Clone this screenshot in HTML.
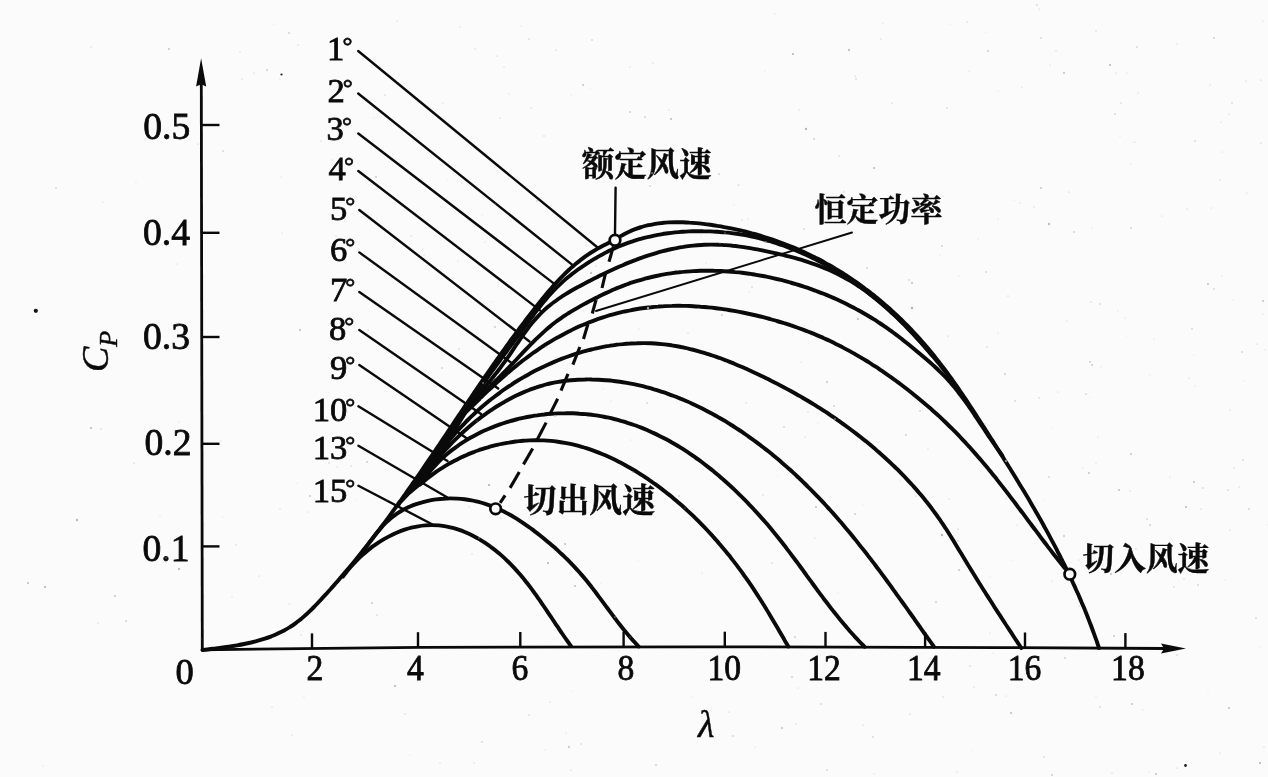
<!DOCTYPE html>
<html lang="zh"><head><meta charset="utf-8"><title>Cp-λ</title>
<style>
html,body{margin:0;padding:0;background:#fbfbfb;}
body{width:1268px;height:777px;overflow:hidden;position:relative;}
svg{position:absolute;left:0;top:0;display:block;filter:grayscale(1);}
.cv{fill:none;stroke:#0a0a0a;stroke-width:3.9;stroke-linecap:round;stroke-linejoin:round;}
.ax{fill:none;stroke:#0a0a0a;stroke-width:2.8;stroke-linecap:butt;}
.tk{fill:none;stroke:#0a0a0a;stroke-width:2.4;}
.ld{fill:none;stroke:#0a0a0a;stroke-width:2.4;stroke-linecap:round;}
.ds{fill:none;stroke:#0a0a0a;stroke-width:3.1;stroke-linecap:butt;}
.ci{fill:#fbfbfb;stroke:#0a0a0a;stroke-width:2.7;}
text{stroke:#0a0a0a;stroke-width:0.45px;fill:#0a0a0a;font-family:"Liberation Serif","Noto Serif CJK SC",serif;}
.yl{font-size:37.6px;stroke-width:0.8px;text-anchor:end;}
.xl{font-size:35px;stroke-width:0.8px;text-anchor:middle;}
.al{font-size:34.6px;stroke-width:0.8px;text-anchor:end;}
.dg{font-size:25px;stroke-width:0.7px;}
.zh{font-family:"Liberation Serif","Noto Serif CJK SC",serif;font-weight:700;font-size:32.3px;}
</style></head><body>
<svg width="1268" height="777" viewBox="0 0 1268 777">
<rect x="0" y="0" width="1268" height="777" fill="#fbfbfb"/>
<path class="ax" d="M202.3 651 L201.3 84"/>
<path d="M201.1 58.2 L206.2 86.6 L201.2 84.2 L196.1 86.6 Z" fill="#0a0a0a"/>
<path class="ax" d="M201.1 649.8 L420.0 647.4 L700.0 646.8 L1000.0 647.6 L1164.0 648.5"/>
<path d="M1186 648.6 L1161 643.4 L1164 648.5 L1161 653.6 Z" fill="#0a0a0a"/>
<path class="tk" d="M312.0 648.6 L312.0 633.4"/>
<path class="tk" d="M418.0 647.4 L418.0 632.2"/>
<path class="tk" d="M520.3 647.2 L520.3 632.0"/>
<path class="tk" d="M623.6 647.0 L623.6 631.8"/>
<path class="tk" d="M724.8 646.9 L724.8 631.7"/>
<path class="tk" d="M825.5 647.1 L825.5 631.9"/>
<path class="tk" d="M925.1 647.4 L925.1 632.2"/>
<path class="tk" d="M1025.0 647.7 L1025.0 632.5"/>
<path class="tk" d="M1125.4 648.3 L1125.4 633.1"/>
<path class="tk" d="M202 125.0 L219.5 125.0"/>
<path class="tk" d="M202 232.8 L219.5 232.8"/>
<path class="tk" d="M202 337.0 L219.5 337.0"/>
<path class="tk" d="M202 443.8 L219.5 443.8"/>
<path class="tk" d="M202 546.4 L219.5 546.4"/>
<path class="ld" d="M358.2 51.0 L597.0 247.0"/>
<path class="ld" d="M358.2 93.5 L573.0 265.4"/>
<path class="ld" d="M358.3 133.5 L553.7 283.4"/>
<path class="ld" d="M358.3 171.0 L540.0 310.4"/>
<path class="ld" d="M359.3 210.0 L529.5 341.5"/>
<path class="ld" d="M359.3 252.4 L513.0 364.0"/>
<path class="ld" d="M359.3 291.9 L498.2 388.6"/>
<path class="ld" d="M359.3 329.9 L481.0 413.9"/>
<path class="ld" d="M359.3 364.9 L466.7 438.2"/>
<path class="ld" d="M358.4 406.3 L447.5 461.0"/>
<path class="ld" d="M358.4 445.8 L447.0 497.2"/>
<path class="ld" d="M358.4 485.7 L432.0 524.2"/>
<path class="ld" d="M615.6 187.8 L615.0 234.0"/>
<path class="ld" style="stroke-width:1.9" d="M596.0 311.0 L852.0 232.5"/>
<path d="M396.9 506.6 L414.4 479.8 L436.0 448.1 L454.0 422.9 L470.3 400.0 L481.2 400.0 L473.5 407.2 L467.4 412.9 L459.4 425.7 L452.3 438.6 L443.2 451.0 L437.7 459.0 L434.0 468.0 L428.6 477.0 L420.5 486.0 L409.7 495.0 L401.2 504.0 L399.5 507.0 Z" fill="#0a0a0a"/>
<path class="cv" d="M202.5 650.0 C203.6 649.9 207.0 649.5 209.2 649.2 C211.5 648.9 213.8 648.7 216.1 648.4 C218.4 648.1 220.7 647.8 223.0 647.5 C225.3 647.2 227.7 646.8 230.0 646.5 C232.4 646.1 234.7 645.7 237.0 645.3 C239.4 644.9 241.7 644.5 244.1 644.0 C246.4 643.5 248.7 643.0 251.1 642.5 C253.4 641.9 255.7 641.3 258.0 640.7 C260.2 640.1 262.5 639.4 264.8 638.6 C267.0 637.9 269.2 637.1 271.4 636.3 C273.6 635.4 275.7 634.6 277.8 633.6 C279.9 632.6 282.0 631.6 284.1 630.5 C286.1 629.4 288.1 628.3 290.0 627.0 C292.0 625.8 293.9 624.5 295.7 623.1 C297.6 621.8 299.4 620.3 301.2 618.9 C302.9 617.4 304.7 615.8 306.4 614.3 C308.1 612.7 309.8 611.1 311.5 609.5 C313.1 607.8 314.8 606.2 316.4 604.5 C318.0 602.8 319.6 601.1 321.2 599.4 C322.8 597.6 324.4 595.9 326.0 594.2 C327.5 592.5 329.1 590.7 330.7 589.0 C332.2 587.2 333.8 585.5 335.3 583.7 C336.9 582.0 338.4 580.2 339.9 578.4 C341.5 576.7 343.0 574.9 344.5 573.1 C346.0 571.3 347.5 569.5 349.0 567.8 C350.5 566.0 352.0 564.2 353.5 562.4 C355.0 560.6 356.5 558.7 357.9 556.9 C359.4 555.1 360.9 553.3 362.3 551.5 C363.8 549.7 365.2 547.8 366.7 546.0 C368.1 544.2 369.5 542.3 371.0 540.5 C372.4 538.6 373.8 536.8 375.2 534.9 C376.7 533.1 378.1 531.2 379.5 529.4 C380.9 527.5 382.3 525.6 383.7 523.8 C385.1 521.9 386.5 520.0 387.9 518.1 C389.3 516.3 390.6 514.4 392.0 512.5 C393.4 510.6 394.8 508.7 396.1 506.8 C397.5 504.9 398.9 503.1 400.2 501.2 C401.6 499.3 402.9 497.4 404.3 495.5 C405.6 493.6 407.0 491.6 408.3 489.7 C409.7 487.8 411.0 485.9 412.3 484.0 C413.7 482.1 415.0 480.2 416.3 478.2 C417.7 476.3 419.0 474.4 420.3 472.5 C421.6 470.6 423.0 468.6 424.3 466.7 C425.6 464.8 426.9 462.9 428.2 460.9 C429.5 459.0 430.8 457.1 432.2 455.1 C433.5 453.2 434.8 451.3 436.1 449.3 C437.4 447.4 438.7 445.4 440.0 443.5 C441.3 441.6 442.6 439.6 443.9 437.7 C445.2 435.8 446.5 433.8 447.8 431.9 C449.1 429.9 450.4 428.0 451.7 426.1 C453.0 424.1 454.3 422.2 455.6 420.2 C456.9 418.3 458.2 416.4 459.5 414.4 C460.8 412.5 462.1 410.5 463.4 408.6 C464.7 406.7 466.0 404.7 467.3 402.8 C468.6 400.8 469.9 398.9 471.2 397.0 C472.5 395.0 473.9 393.1 475.2 391.2 C476.5 389.2 477.8 387.3 479.1 385.4 C480.4 383.4 481.7 381.5 483.1 379.6 C484.4 377.7 485.7 375.7 487.0 373.8 C488.4 371.9 489.7 370.0 491.0 368.1 C492.4 366.1 493.7 364.2 495.0 362.3 C496.4 360.4 497.7 358.5 499.1 356.6 C500.4 354.7 501.8 352.8 503.1 350.9 C504.5 349.0 505.8 347.1 507.2 345.2 C508.6 343.3 509.9 341.4 511.3 339.5 C512.7 337.6 514.1 335.7 515.5 333.8 C516.9 332.0 518.2 330.1 519.6 328.2 C521.0 326.3 522.4 324.5 523.9 322.6 C525.3 320.7 526.7 318.9 528.1 317.0 C529.5 315.1 531.0 313.3 532.4 311.4 C533.8 309.6 535.3 307.8 536.7 305.9 C538.2 304.1 539.6 302.3 541.1 300.4 C542.6 298.6 544.0 296.8 545.5 295.0 C547.0 293.2 548.5 291.4 550.1 289.7 C551.6 287.9 553.1 286.1 554.7 284.4 C556.2 282.7 557.8 281.0 559.4 279.3 C561.0 277.6 562.6 276.0 564.3 274.3 C565.9 272.7 567.6 271.1 569.3 269.5 C571.0 268.0 572.7 266.4 574.5 264.9 C576.2 263.4 578.0 262.0 579.9 260.6 C581.7 259.1 583.5 257.7 585.4 256.4 C587.3 255.1 589.2 253.8 591.2 252.5 C593.2 251.3 595.2 250.1 597.2 248.9 C599.2 247.8 601.3 246.7 603.4 245.6 C605.5 244.5 607.7 243.4 609.8 242.3 C611.9 241.2 614.0 240.0 616.1 238.8 C618.2 237.6 620.2 236.3 622.3 235.2 C624.4 234.0 626.5 232.9 628.6 231.9 C630.8 230.9 632.9 230.0 635.1 229.2 C637.3 228.4 639.4 227.6 641.6 227.0 C643.8 226.3 646.1 225.7 648.3 225.2 C650.5 224.7 652.8 224.3 655.0 223.9 C657.3 223.5 659.5 223.2 661.8 223.0 C664.1 222.7 666.4 222.5 668.7 222.4 C670.9 222.3 673.2 222.2 675.6 222.2 C677.9 222.2 680.2 222.2 682.5 222.2 C684.8 222.3 687.1 222.4 689.5 222.6 C691.8 222.7 694.1 222.9 696.4 223.1 C698.8 223.3 701.1 223.6 703.4 223.9 C705.7 224.2 708.1 224.5 710.4 224.8 C712.7 225.1 715.0 225.5 717.3 225.9 C719.7 226.2 722.0 226.6 724.3 227.1 C726.6 227.5 728.9 227.9 731.2 228.4 C733.5 228.9 735.8 229.4 738.1 229.9 C740.4 230.4 742.7 231.0 745.0 231.5 C747.2 232.1 749.5 232.7 751.8 233.3 C754.0 233.9 756.3 234.5 758.6 235.2 C760.8 235.9 763.1 236.5 765.3 237.3 C767.5 238.0 769.8 238.7 772.0 239.4 C774.2 240.2 776.4 241.0 778.6 241.8 C780.9 242.6 783.1 243.4 785.2 244.2 C787.4 245.1 789.6 245.9 791.8 246.8 C793.9 247.7 796.1 248.6 798.2 249.6 C800.4 250.5 802.5 251.5 804.7 252.4 C806.8 253.4 808.9 254.4 811.0 255.4 C813.1 256.5 815.2 257.5 817.3 258.6 C819.3 259.6 821.4 260.7 823.5 261.8 C825.5 263.0 827.5 264.1 829.6 265.2 C831.6 266.4 833.6 267.6 835.6 268.8 C837.6 270.0 839.6 271.2 841.6 272.4 C843.5 273.7 845.5 274.9 847.4 276.2 C849.4 277.5 851.3 278.8 853.2 280.1 C855.2 281.4 857.1 282.7 859.0 284.1 C860.9 285.4 862.7 286.8 864.6 288.2 C866.5 289.6 868.3 291.0 870.2 292.4 C872.0 293.9 873.8 295.3 875.6 296.8 C877.4 298.2 879.2 299.7 881.0 301.2 C882.8 302.7 884.6 304.2 886.3 305.8 C888.1 307.3 889.8 308.9 891.5 310.4 C893.3 312.0 895.0 313.6 896.7 315.2 C898.4 316.8 900.1 318.4 901.7 320.0 C903.4 321.6 905.0 323.3 906.7 325.0 C908.3 326.6 909.9 328.3 911.6 330.0 C913.2 331.7 914.8 333.4 916.3 335.1 C917.9 336.8 919.5 338.5 921.0 340.3 C922.6 342.0 924.1 343.8 925.6 345.6 C927.2 347.3 928.7 349.1 930.2 350.9 C931.6 352.7 933.1 354.5 934.6 356.3 C936.0 358.2 937.5 360.0 938.9 361.8 C940.3 363.7 941.8 365.5 943.2 367.4 C944.6 369.3 946.0 371.2 947.4 373.0 C948.7 374.9 950.1 376.8 951.5 378.7 C952.8 380.6 954.2 382.5 955.5 384.4 C956.9 386.4 958.2 388.3 959.5 390.2 C960.8 392.2 962.2 394.1 963.5 396.0 C964.8 398.0 966.1 399.9 967.4 401.9 C968.7 403.8 969.9 405.8 971.2 407.7 C972.5 409.7 973.8 411.6 975.1 413.6 C976.3 415.6 977.6 417.5 978.9 419.5 C980.2 421.5 981.4 423.4 982.7 425.4 C984.0 427.4 985.2 429.3 986.5 431.3 C987.7 433.3 989.0 435.2 990.3 437.2 C991.5 439.2 992.8 441.1 994.0 443.1 C995.3 445.1 996.5 447.1 997.8 449.0 C999.0 451.0 1000.3 453.0 1001.5 454.9 C1002.8 456.9 1004.0 458.9 1005.2 460.9 C1006.5 462.8 1007.7 464.8 1008.9 466.8 C1010.2 468.8 1011.4 470.8 1012.6 472.7 C1013.9 474.7 1015.1 476.7 1016.3 478.7 C1017.5 480.7 1018.7 482.7 1019.9 484.7 C1021.1 486.6 1022.3 488.6 1023.5 490.6 C1024.7 492.6 1025.9 494.6 1027.1 496.6 C1028.3 498.6 1029.5 500.6 1030.7 502.7 C1031.8 504.7 1033.0 506.7 1034.2 508.7 C1035.4 510.7 1036.5 512.7 1037.7 514.8 C1038.8 516.8 1040.0 518.8 1041.1 520.8 C1042.3 522.9 1043.4 524.9 1044.5 527.0 C1045.7 529.0 1046.8 531.0 1047.9 533.1 C1049.0 535.1 1050.1 537.2 1051.2 539.3 C1052.3 541.3 1053.4 543.4 1054.5 545.4 C1055.6 547.5 1056.7 549.6 1057.7 551.7 C1058.8 553.7 1059.9 555.8 1060.9 557.9 C1062.0 560.0 1063.0 562.1 1064.1 564.2 C1065.1 566.2 1066.1 568.3 1067.1 570.4 C1068.2 572.5 1069.2 574.6 1070.2 576.8 C1071.2 578.9 1072.2 581.0 1073.1 583.1 C1074.1 585.2 1075.1 587.3 1076.0 589.5 C1077.0 591.6 1077.9 593.7 1078.9 595.9 C1079.8 598.0 1080.7 600.1 1081.6 602.3 C1082.6 604.4 1083.5 606.6 1084.4 608.7 C1085.2 610.9 1086.1 613.0 1087.0 615.2 C1087.8 617.4 1088.7 619.5 1089.5 621.7 C1090.4 623.9 1091.2 626.1 1092.0 628.2 C1092.8 630.4 1093.6 632.6 1094.4 634.8 C1095.2 637.0 1096.0 639.2 1096.8 641.4 C1097.5 643.6 1098.6 646.9 1099.0 648.0"/>
<path class="cv" d="M471.5 400.0 C472.2 399.0 474.2 396.1 475.5 394.2 C476.9 392.3 478.2 390.4 479.6 388.5 C480.9 386.6 482.3 384.7 483.7 382.8 C485.0 380.9 486.4 379.0 487.8 377.1 C489.1 375.2 490.5 373.3 491.9 371.4 C493.3 369.5 494.7 367.6 496.1 365.7 C497.5 363.8 498.9 361.9 500.3 360.0 C501.6 358.1 503.0 356.2 504.4 354.4 C505.8 352.5 507.2 350.6 508.6 348.7 C510.0 346.8 511.4 344.9 512.8 343.0 C514.2 341.1 515.6 339.2 517.0 337.4 C518.4 335.5 519.8 333.6 521.2 331.7 C522.6 329.8 524.0 327.9 525.3 326.0 C526.7 324.1 528.1 322.2 529.5 320.3 C530.9 318.4 532.3 316.5 533.7 314.7 C535.1 312.8 536.5 310.9 538.0 309.1 C539.4 307.2 540.9 305.4 542.3 303.6 C543.8 301.8 545.3 300.0 546.8 298.2 C548.3 296.4 549.9 294.7 551.5 293.0 C553.0 291.3 554.6 289.6 556.3 287.9 C557.9 286.3 559.6 284.6 561.3 283.1 C563.0 281.5 564.8 279.9 566.5 278.4 C568.3 276.9 570.2 275.5 572.0 274.0 C573.9 272.6 575.8 271.2 577.7 269.8 C579.6 268.4 581.5 267.1 583.5 265.8 C585.5 264.5 587.4 263.2 589.4 261.9 C591.4 260.7 593.5 259.4 595.5 258.3 C597.5 257.1 599.6 255.9 601.7 254.8 C603.7 253.6 605.8 252.5 607.9 251.5 C610.0 250.5 612.1 249.4 614.3 248.5 C616.4 247.5 618.6 246.6 620.7 245.7 C622.9 244.8 625.1 244.0 627.3 243.2 C629.4 242.4 631.7 241.7 633.9 240.9 C636.1 240.2 638.3 239.6 640.6 238.9 C642.8 238.3 645.1 237.7 647.3 237.2 C649.6 236.6 651.9 236.1 654.2 235.6 C656.5 235.2 658.8 234.7 661.1 234.3 C663.4 233.9 665.7 233.6 668.0 233.3 C670.3 233.0 672.7 232.7 675.0 232.4 C677.4 232.2 679.7 232.0 682.1 231.8 C684.4 231.7 686.8 231.5 689.1 231.4 C691.5 231.3 693.9 231.3 696.2 231.2 C698.6 231.2 700.9 231.2 703.3 231.3 C705.7 231.3 708.0 231.4 710.4 231.4 C712.7 231.5 715.1 231.7 717.4 231.8 C719.8 232.0 722.1 232.1 724.4 232.4 C726.8 232.6 729.1 232.8 731.4 233.1 C733.7 233.4 736.0 233.7 738.3 234.0 C740.6 234.4 742.9 234.8 745.2 235.2 C747.5 235.6 749.7 236.1 752.0 236.6 C754.3 237.1 756.5 237.6 758.8 238.2 C761.1 238.7 763.3 239.3 765.6 240.0 C767.8 240.6 770.1 241.3 772.3 241.9 C774.5 242.6 776.8 243.4 779.0 244.1 C781.2 244.9 783.4 245.6 785.7 246.5 C787.9 247.3 790.1 248.1 792.3 249.0 C794.5 249.8 796.6 250.7 798.8 251.7 C801.0 252.6 803.1 253.5 805.3 254.5 C807.4 255.5 809.6 256.5 811.7 257.5 C813.8 258.6 816.0 259.6 818.1 260.7 C820.2 261.8 822.2 262.9 824.3 264.0 C826.4 265.1 828.5 266.3 830.5 267.4 C832.5 268.6 834.6 269.8 836.6 271.0 C838.6 272.2 840.6 273.5 842.6 274.7 C844.5 276.0 846.5 277.3 848.4 278.6 C850.4 279.9 852.3 281.2 854.2 282.5 C856.2 283.9 858.1 285.2 859.9 286.6 C861.8 288.0 863.7 289.4 865.6 290.8 C867.4 292.2 869.3 293.7 871.1 295.1 C872.9 296.6 874.7 298.1 876.5 299.6 C878.3 301.1 880.1 302.6 881.9 304.1 C883.7 305.6 885.4 307.2 887.2 308.7 C888.9 310.3 890.6 311.8 892.4 313.4 C894.1 315.0 895.8 316.6 897.5 318.2 C899.2 319.9 900.8 321.5 902.5 323.2 C904.2 324.8 905.8 326.5 907.4 328.1 C909.1 329.8 910.7 331.5 912.3 333.2 C913.9 334.9 915.5 336.6 917.1 338.4 C918.7 340.1 920.3 341.8 921.8 343.6 C923.4 345.3 925.0 347.1 926.5 348.9 C928.0 350.6 929.6 352.4 931.1 354.2 C932.6 356.0 934.1 357.8 935.6 359.6 C937.1 361.4 938.6 363.3 940.1 365.1 C941.5 366.9 943.0 368.8 944.4 370.6 C945.9 372.5 947.3 374.3 948.8 376.2 C950.2 378.1 951.6 380.0 953.0 381.8 C954.4 383.7 956.5 386.6 957.2 387.5"/>
<path class="cv" d="M474.0 400.0 C474.8 399.1 477.0 396.4 478.6 394.6 C480.1 392.8 481.6 391.0 483.1 389.2 C484.6 387.4 486.1 385.6 487.6 383.8 C489.1 382.0 490.6 380.1 492.1 378.3 C493.6 376.5 495.0 374.6 496.5 372.8 C497.9 370.9 499.4 369.0 500.8 367.1 C502.2 365.2 503.6 363.3 505.0 361.4 C506.4 359.5 507.7 357.5 509.1 355.6 C510.4 353.6 511.8 351.6 513.1 349.7 C514.4 347.7 515.7 345.7 517.1 343.7 C518.4 341.8 519.7 339.8 521.1 337.9 C522.4 335.9 523.8 334.0 525.2 332.1 C526.6 330.2 528.0 328.3 529.4 326.4 C530.8 324.6 532.3 322.7 533.8 321.0 C535.3 319.2 536.9 317.5 538.5 315.8 C540.1 314.1 541.7 312.5 543.4 310.9 C545.1 309.3 546.8 307.8 548.6 306.3 C550.4 304.9 552.2 303.4 554.1 302.0 C556.0 300.7 557.9 299.3 559.8 298.0 C561.7 296.7 563.7 295.4 565.7 294.2 C567.7 292.9 569.7 291.7 571.7 290.5 C573.8 289.4 575.8 288.2 577.9 287.1 C580.0 285.9 582.1 284.8 584.2 283.7 C586.3 282.6 588.4 281.5 590.5 280.4 C592.6 279.3 594.7 278.2 596.9 277.2 C599.0 276.1 601.1 275.1 603.3 274.0 C605.4 273.0 607.6 272.0 609.7 271.0 C611.9 270.0 614.1 269.0 616.2 268.0 C618.4 267.0 620.6 266.1 622.8 265.2 C625.0 264.2 627.2 263.3 629.4 262.4 C631.6 261.6 633.8 260.7 636.0 259.9 C638.2 259.0 640.4 258.2 642.7 257.4 C644.9 256.7 647.1 255.9 649.4 255.2 C651.6 254.5 653.8 253.8 656.1 253.1 C658.3 252.4 660.6 251.8 662.9 251.2 C665.1 250.6 667.4 250.1 669.7 249.5 C672.0 249.0 674.2 248.5 676.5 248.1 C678.8 247.6 681.1 247.2 683.4 246.9 C685.7 246.5 688.0 246.2 690.4 245.9 C692.7 245.6 695.0 245.4 697.3 245.2 C699.6 245.0 702.0 244.8 704.3 244.7 C706.6 244.6 709.0 244.6 711.3 244.6 C713.7 244.6 716.0 244.6 718.4 244.7 C720.7 244.8 723.1 245.0 725.5 245.1 C727.8 245.3 730.2 245.5 732.5 245.8 C734.9 246.0 737.3 246.3 739.6 246.6 C742.0 246.9 744.4 247.2 746.7 247.6 C749.1 248.0 751.4 248.4 753.8 248.8 C756.2 249.2 758.5 249.7 760.9 250.1 C763.2 250.6 765.6 251.1 767.9 251.6 C770.2 252.1 772.6 252.6 774.9 253.1 C777.2 253.6 779.5 254.2 781.8 254.7 C784.1 255.3 786.4 255.8 788.7 256.4 C791.0 257.0 793.3 257.6 795.6 258.2 C797.8 258.9 800.1 259.5 802.3 260.2 C804.6 260.9 806.8 261.6 809.0 262.3 C811.3 263.0 813.5 263.8 815.7 264.6 C817.9 265.4 820.0 266.2 822.2 267.1 C824.4 267.9 826.5 268.8 828.7 269.8 C830.8 270.7 832.9 271.7 835.0 272.7 C837.1 273.7 839.2 274.8 841.3 275.9 C843.3 277.0 845.4 278.1 847.4 279.3 C849.4 280.4 851.5 281.6 853.5 282.9 C855.5 284.1 857.4 285.4 859.4 286.7 C861.4 288.0 863.3 289.4 865.2 290.7 C867.2 292.1 869.1 293.5 871.0 294.9 C872.9 296.4 874.7 297.8 876.6 299.3 C878.4 300.8 880.3 302.3 882.1 303.8 C883.9 305.4 885.7 306.9 887.5 308.5 C889.3 310.1 891.1 311.7 892.8 313.3 C894.6 314.9 896.3 316.5 898.0 318.2 C899.8 319.8 901.5 321.5 903.1 323.2 C904.8 324.8 906.5 326.5 908.1 328.2 C909.8 330.0 911.4 331.7 913.0 333.4 C914.6 335.1 916.2 336.9 917.8 338.6 C919.4 340.4 920.9 342.1 922.5 343.9 C924.0 345.6 925.5 347.4 927.0 349.2 C928.5 351.0 930.8 353.6 931.5 354.5"/>
<path class="cv" d="M476.5 400.0 C477.3 399.2 479.8 396.7 481.5 395.1 C483.1 393.4 484.8 391.8 486.4 390.1 C488.1 388.4 489.7 386.8 491.4 385.1 C493.0 383.5 494.7 381.8 496.3 380.2 C498.0 378.5 499.6 376.8 501.3 375.2 C502.9 373.5 504.5 371.8 506.2 370.1 C507.8 368.4 509.5 366.8 511.1 365.1 C512.7 363.4 514.4 361.7 516.0 360.0 C517.6 358.3 519.2 356.6 520.8 354.8 C522.5 353.1 524.1 351.4 525.7 349.7 C527.3 348.0 528.9 346.3 530.6 344.6 C532.2 343.0 533.9 341.3 535.5 339.6 C537.2 338.0 538.9 336.4 540.6 334.8 C542.3 333.2 544.0 331.6 545.7 330.1 C547.5 328.5 549.3 327.0 551.1 325.6 C552.9 324.1 554.7 322.7 556.6 321.3 C558.4 320.0 560.3 318.6 562.2 317.3 C564.1 316.0 566.1 314.8 568.0 313.5 C570.0 312.3 572.0 311.1 574.0 309.9 C576.0 308.7 578.0 307.5 580.0 306.4 C582.1 305.2 584.1 304.1 586.2 303.0 C588.3 301.9 590.4 300.8 592.5 299.7 C594.6 298.6 596.7 297.6 598.8 296.5 C600.9 295.4 603.0 294.4 605.2 293.4 C607.3 292.4 609.5 291.4 611.6 290.4 C613.8 289.5 616.0 288.5 618.2 287.7 C620.3 286.8 622.5 285.9 624.7 285.1 C626.9 284.2 629.2 283.5 631.4 282.7 C633.6 282.0 635.8 281.3 638.1 280.6 C640.3 279.9 642.6 279.3 644.8 278.7 C647.1 278.1 649.4 277.5 651.6 277.0 C653.9 276.4 656.2 275.9 658.5 275.5 C660.7 275.0 663.0 274.6 665.3 274.2 C667.6 273.8 669.9 273.5 672.2 273.1 C674.5 272.8 676.9 272.5 679.2 272.3 C681.5 272.0 683.8 271.8 686.1 271.6 C688.4 271.4 690.8 271.2 693.1 271.1 C695.4 271.0 697.8 270.9 700.1 270.8 C702.4 270.8 704.8 270.7 707.1 270.7 C709.4 270.7 711.8 270.7 714.1 270.8 C716.4 270.8 718.8 270.9 721.1 271.0 C723.4 271.1 725.8 271.3 728.1 271.5 C730.5 271.6 732.8 271.8 735.1 272.1 C737.5 272.3 739.8 272.5 742.1 272.8 C744.4 273.1 746.8 273.4 749.1 273.7 C751.4 274.1 753.7 274.4 756.0 274.8 C758.4 275.2 760.7 275.6 763.0 276.0 C765.3 276.5 767.6 276.9 769.9 277.4 C772.2 277.9 774.5 278.4 776.8 279.0 C779.0 279.5 781.3 280.1 783.6 280.6 C785.9 281.2 788.1 281.8 790.4 282.5 C792.7 283.1 794.9 283.8 797.2 284.5 C799.4 285.1 801.6 285.8 803.9 286.6 C806.1 287.3 808.3 288.1 810.5 288.8 C812.7 289.6 814.9 290.4 817.1 291.3 C819.3 292.1 821.5 292.9 823.7 293.8 C825.9 294.7 828.0 295.6 830.2 296.5 C832.3 297.4 834.5 298.4 836.6 299.3 C838.7 300.3 840.8 301.3 842.9 302.3 C845.0 303.3 847.1 304.3 849.2 305.4 C851.3 306.5 853.4 307.5 855.4 308.6 C857.5 309.7 859.5 310.9 861.6 312.0 C863.6 313.2 865.6 314.3 867.6 315.5 C869.6 316.7 871.6 317.9 873.6 319.2 C875.6 320.4 877.5 321.7 879.5 323.0 C881.4 324.2 883.4 325.6 885.3 326.9 C887.2 328.2 889.1 329.6 891.0 330.9 C892.9 332.3 894.8 333.7 896.7 335.1 C898.6 336.5 900.4 338.0 902.3 339.4 C904.1 340.9 905.9 342.3 907.8 343.8 C909.6 345.3 911.4 346.8 913.2 348.3 C915.0 349.8 916.8 351.3 918.6 352.8 C920.4 354.3 922.2 355.8 924.0 357.3 C925.8 358.8 927.6 360.3 929.3 361.8 C931.1 363.4 932.8 364.9 934.6 366.5 C936.3 368.1 938.0 369.6 939.6 371.3 C941.3 372.9 943.0 374.5 944.6 376.2 C946.2 377.9 947.7 379.6 949.3 381.3 C950.8 383.1 952.3 384.8 953.8 386.6 C955.3 388.4 956.7 390.2 958.2 392.0 C959.6 393.9 961.0 395.7 962.4 397.6 C963.8 399.4 965.2 401.3 966.5 403.2 C967.9 405.1 969.2 407.0 970.6 409.0 C971.9 410.9 973.2 412.8 974.5 414.8 C975.8 416.7 977.1 418.7 978.4 420.6 C979.7 422.6 981.0 424.5 982.3 426.5 C983.6 428.4 984.9 430.4 986.2 432.4 C987.5 434.3 988.8 436.3 990.1 438.2 C991.4 440.2 992.8 442.1 994.1 444.0 C995.4 446.0 996.7 447.9 998.1 449.8 C999.5 451.7 1001.5 454.6 1002.2 455.5"/>
<path class="cv" d="M465.0 412.9 C465.8 412.1 468.3 409.6 470.0 408.0 C471.7 406.4 473.4 404.7 475.1 403.1 C476.7 401.5 478.4 399.8 480.1 398.2 C481.8 396.6 483.5 394.9 485.2 393.3 C486.9 391.7 488.7 390.1 490.4 388.5 C492.1 386.9 493.8 385.3 495.6 383.7 C497.3 382.1 499.1 380.5 500.8 379.0 C502.6 377.4 504.4 375.8 506.2 374.3 C507.9 372.8 509.7 371.2 511.5 369.7 C513.3 368.2 515.2 366.7 517.0 365.2 C518.8 363.7 520.7 362.3 522.5 360.8 C524.4 359.4 526.3 358.0 528.2 356.6 C530.1 355.2 532.0 353.8 533.9 352.4 C535.8 351.0 537.8 349.7 539.7 348.4 C541.7 347.1 543.7 345.8 545.7 344.5 C547.7 343.3 549.7 342.0 551.7 340.8 C553.7 339.6 555.8 338.4 557.9 337.3 C559.9 336.1 562.0 335.0 564.1 333.9 C566.2 332.8 568.3 331.7 570.4 330.7 C572.5 329.6 574.7 328.6 576.8 327.6 C578.9 326.6 581.1 325.7 583.3 324.8 C585.5 323.8 587.6 323.0 589.8 322.1 C592.0 321.2 594.2 320.4 596.4 319.6 C598.7 318.8 600.9 318.1 603.1 317.3 C605.4 316.6 607.6 315.9 609.9 315.2 C612.1 314.6 614.4 314.0 616.6 313.4 C618.9 312.8 621.2 312.2 623.5 311.7 C625.8 311.2 628.0 310.7 630.3 310.3 C632.6 309.8 634.9 309.4 637.2 309.0 C639.6 308.6 641.9 308.3 644.2 308.0 C646.5 307.7 648.8 307.4 651.2 307.2 C653.5 306.9 655.8 306.7 658.1 306.6 C660.5 306.4 662.8 306.2 665.2 306.1 C667.5 306.0 669.8 305.9 672.2 305.9 C674.5 305.8 676.9 305.8 679.2 305.8 C681.6 305.8 683.9 305.9 686.3 305.9 C688.6 306.0 691.0 306.1 693.3 306.2 C695.7 306.3 698.0 306.5 700.4 306.7 C702.8 306.8 705.1 307.0 707.5 307.3 C709.8 307.5 712.2 307.7 714.5 308.0 C716.8 308.3 719.2 308.6 721.5 308.9 C723.9 309.3 726.2 309.6 728.5 310.0 C730.9 310.4 733.2 310.8 735.5 311.2 C737.9 311.6 740.2 312.0 742.5 312.5 C744.8 313.0 747.2 313.5 749.5 314.0 C751.8 314.5 754.1 315.0 756.4 315.5 C758.7 316.1 761.0 316.7 763.3 317.2 C765.6 317.8 767.8 318.4 770.1 319.0 C772.4 319.7 774.6 320.3 776.9 321.0 C779.2 321.6 781.4 322.3 783.7 323.0 C785.9 323.7 788.2 324.4 790.4 325.2 C792.6 325.9 794.8 326.7 797.0 327.5 C799.3 328.3 801.5 329.1 803.7 329.9 C805.9 330.7 808.1 331.6 810.2 332.4 C812.4 333.3 814.6 334.2 816.7 335.1 C818.9 336.0 821.1 337.0 823.2 337.9 C825.3 338.9 827.5 339.8 829.6 340.8 C831.7 341.8 833.8 342.8 835.9 343.9 C838.0 344.9 840.1 346.0 842.2 347.1 C844.3 348.2 846.4 349.3 848.4 350.4 C850.5 351.5 852.5 352.7 854.6 353.8 C856.6 355.0 858.6 356.2 860.6 357.4 C862.7 358.6 864.7 359.8 866.7 361.0 C868.7 362.3 870.7 363.5 872.6 364.8 C874.6 366.1 876.6 367.3 878.6 368.6 C880.5 370.0 882.5 371.3 884.4 372.6 C886.3 373.9 888.3 375.3 890.2 376.7 C892.1 378.0 894.0 379.4 895.9 380.8 C897.8 382.2 899.7 383.6 901.6 385.0 C903.5 386.4 905.4 387.9 907.2 389.3 C909.1 390.8 910.9 392.2 912.8 393.7 C914.6 395.2 916.5 396.7 918.3 398.2 C920.1 399.7 921.9 401.2 923.7 402.7 C925.5 404.2 927.3 405.7 929.1 407.3 C930.9 408.8 932.6 410.4 934.4 412.0 C936.1 413.5 937.9 415.1 939.6 416.7 C941.3 418.3 943.0 419.9 944.7 421.5 C946.4 423.2 948.1 424.8 949.8 426.5 C951.5 428.1 953.1 429.8 954.8 431.4 C956.4 433.1 958.1 434.8 959.7 436.5 C961.3 438.2 962.9 439.9 964.5 441.6 C966.1 443.3 967.7 445.1 969.3 446.8 C970.8 448.6 972.4 450.3 974.0 452.1 C975.5 453.8 977.1 455.6 978.6 457.4 C980.1 459.1 981.6 460.9 983.2 462.7 C984.7 464.5 986.2 466.3 987.7 468.1 C989.2 470.0 990.7 471.8 992.1 473.6 C993.6 475.4 995.1 477.3 996.6 479.1 C998.0 480.9 999.5 482.8 1000.9 484.6 C1002.4 486.5 1003.8 488.3 1005.3 490.2 C1006.7 492.1 1008.2 493.9 1009.6 495.8 C1011.0 497.7 1012.4 499.5 1013.9 501.4 C1015.3 503.3 1016.7 505.2 1018.1 507.1 C1019.5 508.9 1020.9 510.8 1022.4 512.7 C1023.8 514.6 1025.2 516.5 1026.6 518.4 C1028.0 520.3 1029.4 522.1 1030.8 524.0 C1032.2 525.9 1033.6 527.8 1035.1 529.7 C1036.5 531.6 1037.9 533.5 1039.3 535.3 C1040.7 537.2 1042.1 539.1 1043.6 541.0 C1045.0 542.9 1046.4 544.7 1047.8 546.6 C1049.3 548.5 1050.7 550.3 1052.1 552.2 C1053.6 554.1 1055.0 555.9 1056.5 557.8 C1057.9 559.6 1059.4 561.5 1060.9 563.3 C1062.3 565.1 1063.8 567.0 1065.3 568.8 C1066.8 570.6 1069.0 573.3 1069.8 574.2"/>
<path class="cv" d="M440.0 452.0 C440.7 451.1 442.9 448.2 444.3 446.4 C445.8 444.5 447.3 442.7 448.8 440.8 C450.3 439.0 451.8 437.2 453.4 435.5 C454.9 433.7 456.5 431.9 458.1 430.2 C459.6 428.4 461.2 426.7 462.9 425.0 C464.5 423.4 466.1 421.7 467.8 420.0 C469.4 418.4 471.1 416.8 472.8 415.2 C474.5 413.5 476.2 412.0 477.9 410.4 C479.7 408.8 481.4 407.3 483.2 405.8 C485.0 404.3 486.8 402.8 488.6 401.3 C490.4 399.8 492.2 398.4 494.1 397.0 C495.9 395.5 497.8 394.1 499.7 392.8 C501.5 391.4 503.4 390.0 505.4 388.7 C507.3 387.4 509.2 386.1 511.2 384.8 C513.1 383.5 515.1 382.2 517.1 381.0 C519.1 379.8 521.1 378.6 523.2 377.4 C525.2 376.2 527.2 375.0 529.3 373.9 C531.4 372.8 533.5 371.6 535.5 370.6 C537.6 369.5 539.8 368.4 541.9 367.4 C544.0 366.4 546.2 365.4 548.3 364.4 C550.5 363.4 552.6 362.5 554.8 361.6 C557.0 360.7 559.2 359.8 561.4 358.9 C563.6 358.1 565.8 357.3 568.1 356.5 C570.3 355.7 572.5 354.9 574.8 354.2 C577.0 353.5 579.3 352.8 581.5 352.1 C583.8 351.5 586.1 350.8 588.4 350.2 C590.6 349.7 592.9 349.1 595.2 348.6 C597.5 348.1 599.8 347.6 602.1 347.1 C604.4 346.7 606.7 346.2 609.0 345.9 C611.3 345.5 613.7 345.2 616.0 344.8 C618.3 344.5 620.6 344.3 622.9 344.1 C625.3 343.8 627.6 343.6 629.9 343.5 C632.2 343.3 634.6 343.2 636.9 343.2 C639.2 343.1 641.5 343.1 643.9 343.1 C646.2 343.1 648.5 343.2 650.8 343.3 C653.1 343.4 655.5 343.5 657.8 343.7 C660.1 343.9 662.4 344.1 664.7 344.4 C667.0 344.7 669.3 345.0 671.6 345.3 C673.9 345.7 676.2 346.1 678.5 346.5 C680.8 346.9 683.0 347.4 685.3 347.9 C687.6 348.4 689.9 349.0 692.1 349.5 C694.4 350.1 696.7 350.7 698.9 351.3 C701.2 352.0 703.4 352.6 705.7 353.3 C707.9 354.0 710.2 354.8 712.4 355.5 C714.6 356.3 716.9 357.0 719.1 357.8 C721.3 358.7 723.5 359.5 725.7 360.3 C727.9 361.2 730.2 362.0 732.4 362.9 C734.5 363.8 736.7 364.7 738.9 365.7 C741.1 366.6 743.3 367.5 745.5 368.5 C747.6 369.5 749.8 370.4 751.9 371.4 C754.1 372.4 756.2 373.4 758.4 374.4 C760.5 375.5 762.7 376.5 764.8 377.5 C766.9 378.6 769.0 379.6 771.1 380.7 C773.3 381.7 775.4 382.8 777.4 383.9 C779.5 385.0 781.6 386.1 783.7 387.2 C785.8 388.3 787.8 389.4 789.9 390.5 C792.0 391.7 794.0 392.8 796.1 394.0 C798.1 395.1 800.1 396.3 802.2 397.5 C804.2 398.7 806.2 399.8 808.2 401.0 C810.2 402.3 812.2 403.5 814.2 404.7 C816.2 405.9 818.2 407.2 820.2 408.4 C822.1 409.7 824.1 411.0 826.1 412.2 C828.0 413.5 830.0 414.8 831.9 416.1 C833.8 417.4 835.8 418.7 837.7 420.1 C839.6 421.4 841.5 422.8 843.4 424.1 C845.3 425.5 847.2 426.9 849.0 428.2 C850.9 429.6 852.8 431.0 854.7 432.5 C856.5 433.9 858.4 435.3 860.2 436.7 C862.0 438.2 863.9 439.7 865.7 441.1 C867.5 442.6 869.3 444.1 871.1 445.6 C872.9 447.1 874.7 448.6 876.4 450.1 C878.2 451.7 880.0 453.2 881.7 454.8 C883.5 456.3 885.2 457.9 886.9 459.5 C888.7 461.1 890.4 462.7 892.1 464.3 C893.8 465.9 895.5 467.6 897.2 469.2 C898.8 470.9 900.5 472.5 902.1 474.2 C903.8 475.9 905.4 477.6 907.0 479.3 C908.6 481.0 910.2 482.7 911.8 484.5 C913.4 486.2 914.9 488.0 916.5 489.7 C918.0 491.5 919.6 493.3 921.1 495.1 C922.6 496.9 924.1 498.7 925.5 500.5 C927.0 502.3 928.5 504.2 929.9 506.0 C931.3 507.9 932.7 509.8 934.1 511.7 C935.5 513.5 936.9 515.4 938.2 517.4 C939.6 519.3 940.9 521.2 942.2 523.2 C943.5 525.1 944.8 527.1 946.1 529.0 C947.4 531.0 948.6 533.0 949.9 535.0 C951.1 536.9 952.3 538.9 953.6 540.9 C954.8 542.9 956.0 544.9 957.2 546.9 C958.4 549.0 959.6 551.0 960.9 553.0 C962.1 555.0 963.3 557.0 964.5 559.0 C965.7 561.0 966.9 563.0 968.1 565.0 C969.4 567.0 970.6 569.0 971.8 571.0 C973.0 573.0 974.3 575.0 975.5 577.0 C976.7 579.0 978.0 581.0 979.2 583.0 C980.5 585.0 981.7 587.0 983.0 589.0 C984.2 590.9 985.5 592.9 986.7 594.9 C988.0 596.9 989.3 598.9 990.5 600.8 C991.8 602.8 993.1 604.8 994.3 606.8 C995.6 608.7 996.9 610.7 998.1 612.7 C999.4 614.6 1000.7 616.6 1002.0 618.6 C1003.3 620.5 1004.5 622.5 1005.8 624.5 C1007.1 626.4 1008.4 628.4 1009.7 630.4 C1011.0 632.3 1012.3 634.3 1013.5 636.2 C1014.8 638.2 1016.1 640.2 1017.4 642.1 C1018.7 644.1 1020.7 647.0 1021.3 648.0"/>
<path class="cv" d="M431.0 467.0 C431.7 466.1 433.8 463.4 435.3 461.6 C436.8 459.8 438.3 458.0 439.8 456.2 C441.3 454.4 442.8 452.7 444.4 450.9 C445.9 449.2 447.5 447.5 449.2 445.8 C450.8 444.1 452.4 442.4 454.1 440.7 C455.7 439.0 457.4 437.4 459.1 435.8 C460.8 434.1 462.6 432.5 464.3 431.0 C466.1 429.4 467.9 427.8 469.7 426.3 C471.5 424.8 473.3 423.3 475.1 421.8 C477.0 420.3 478.9 418.9 480.8 417.4 C482.6 416.0 484.6 414.6 486.5 413.3 C488.4 411.9 490.4 410.6 492.3 409.3 C494.3 408.0 496.3 406.7 498.3 405.5 C500.3 404.2 502.3 403.0 504.4 401.9 C506.4 400.7 508.5 399.6 510.6 398.5 C512.7 397.4 514.8 396.3 516.9 395.3 C519.0 394.3 521.1 393.3 523.3 392.4 C525.5 391.5 527.6 390.6 529.8 389.7 C532.0 388.9 534.2 388.1 536.4 387.4 C538.6 386.6 540.9 385.9 543.1 385.3 C545.4 384.6 547.7 384.1 549.9 383.5 C552.2 383.0 554.5 382.5 556.8 382.1 C559.1 381.7 561.4 381.3 563.8 381.0 C566.1 380.7 568.4 380.4 570.8 380.2 C573.1 380.0 575.5 379.8 577.8 379.7 C580.2 379.6 582.5 379.5 584.9 379.5 C587.2 379.4 589.6 379.4 591.9 379.5 C594.3 379.5 596.7 379.6 599.0 379.7 C601.3 379.8 603.7 380.0 606.0 380.2 C608.3 380.4 610.7 380.6 613.0 380.9 C615.3 381.2 617.6 381.5 619.9 381.8 C622.2 382.1 624.5 382.5 626.8 382.9 C629.1 383.3 631.4 383.7 633.7 384.2 C636.0 384.7 638.2 385.2 640.5 385.7 C642.8 386.2 645.0 386.8 647.3 387.4 C649.5 388.0 651.7 388.6 654.0 389.3 C656.2 389.9 658.4 390.6 660.6 391.3 C662.9 392.1 665.1 392.8 667.3 393.6 C669.5 394.4 671.7 395.2 673.8 396.0 C676.0 396.8 678.2 397.7 680.4 398.6 C682.5 399.4 684.7 400.3 686.8 401.3 C689.0 402.2 691.1 403.2 693.3 404.2 C695.4 405.2 697.5 406.2 699.6 407.2 C701.7 408.2 703.8 409.3 705.9 410.4 C708.0 411.5 710.1 412.6 712.2 413.7 C714.2 414.8 716.3 416.0 718.3 417.2 C720.4 418.3 722.4 419.5 724.5 420.7 C726.5 422.0 728.5 423.2 730.5 424.5 C732.5 425.7 734.5 427.0 736.5 428.3 C738.5 429.6 740.5 430.9 742.5 432.2 C744.4 433.6 746.4 434.9 748.3 436.3 C750.3 437.7 752.2 439.1 754.1 440.5 C756.0 441.9 758.0 443.3 759.9 444.7 C761.7 446.2 763.6 447.6 765.5 449.1 C767.4 450.6 769.2 452.0 771.1 453.5 C772.9 455.0 774.8 456.5 776.6 458.1 C778.4 459.6 780.2 461.1 782.0 462.7 C783.8 464.2 785.6 465.8 787.4 467.4 C789.2 468.9 790.9 470.5 792.7 472.1 C794.4 473.7 796.2 475.3 797.9 477.0 C799.6 478.6 801.3 480.2 803.0 481.8 C804.7 483.5 806.4 485.1 808.0 486.8 C809.7 488.4 811.4 490.1 813.0 491.8 C814.6 493.5 816.3 495.1 817.9 496.8 C819.5 498.5 821.1 500.2 822.7 501.9 C824.3 503.6 825.9 505.4 827.5 507.1 C829.0 508.8 830.6 510.5 832.2 512.3 C833.7 514.0 835.3 515.8 836.8 517.5 C838.3 519.3 839.9 521.1 841.4 522.8 C842.9 524.6 844.4 526.4 845.9 528.2 C847.4 529.9 848.9 531.7 850.4 533.5 C851.8 535.3 853.3 537.1 854.8 538.9 C856.2 540.7 857.7 542.6 859.1 544.4 C860.6 546.2 862.0 548.0 863.5 549.9 C864.9 551.7 866.4 553.5 867.8 555.4 C869.2 557.2 870.6 559.1 872.0 560.9 C873.5 562.8 874.9 564.6 876.3 566.5 C877.7 568.4 879.1 570.2 880.5 572.1 C881.9 574.0 883.3 575.9 884.6 577.7 C886.0 579.6 887.4 581.5 888.8 583.4 C890.2 585.3 891.6 587.2 892.9 589.1 C894.3 591.0 895.7 592.9 897.0 594.8 C898.4 596.7 899.8 598.6 901.1 600.5 C902.5 602.4 903.9 604.3 905.2 606.2 C906.6 608.1 908.0 610.1 909.3 612.0 C910.7 613.9 912.1 615.8 913.4 617.7 C914.8 619.7 916.1 621.6 917.5 623.5 C918.9 625.4 920.2 627.4 921.6 629.3 C922.9 631.2 924.3 633.2 925.7 635.1 C927.0 637.0 928.4 639.0 929.8 640.9 C931.2 642.8 933.2 645.7 933.9 646.7"/>
<path class="cv" d="M428.0 474.0 C428.7 473.1 430.9 470.3 432.5 468.5 C434.0 466.8 435.6 465.0 437.2 463.3 C438.8 461.7 440.5 460.0 442.2 458.4 C443.9 456.8 445.6 455.3 447.4 453.8 C449.2 452.3 451.0 450.8 452.9 449.4 C454.7 448.0 456.6 446.6 458.5 445.3 C460.4 443.9 462.4 442.6 464.4 441.4 C466.3 440.2 468.3 439.0 470.4 437.8 C472.4 436.6 474.5 435.5 476.6 434.4 C478.6 433.4 480.8 432.3 482.9 431.3 C485.0 430.4 487.2 429.4 489.4 428.5 C491.5 427.6 493.7 426.7 495.9 425.9 C498.1 425.1 500.4 424.3 502.6 423.5 C504.9 422.8 507.1 422.1 509.4 421.4 C511.7 420.7 513.9 420.1 516.2 419.5 C518.5 418.9 520.8 418.4 523.2 417.9 C525.5 417.4 527.8 416.9 530.1 416.5 C532.5 416.1 534.8 415.7 537.2 415.4 C539.5 415.0 541.9 414.7 544.2 414.5 C546.6 414.2 548.9 414.0 551.3 413.8 C553.7 413.6 556.0 413.5 558.4 413.4 C560.8 413.3 563.1 413.3 565.5 413.3 C567.9 413.2 570.2 413.3 572.6 413.3 C574.9 413.4 577.3 413.5 579.6 413.7 C582.0 413.8 584.3 414.0 586.7 414.2 C589.0 414.5 591.3 414.7 593.6 415.1 C595.9 415.4 598.3 415.7 600.5 416.1 C602.8 416.5 605.1 417.0 607.4 417.4 C609.7 417.9 611.9 418.4 614.2 419.0 C616.4 419.5 618.7 420.1 620.9 420.8 C623.1 421.4 625.3 422.0 627.5 422.8 C629.7 423.5 631.9 424.2 634.1 425.0 C636.3 425.7 638.4 426.6 640.6 427.4 C642.7 428.2 644.9 429.1 647.0 430.0 C649.1 430.9 651.2 431.9 653.3 432.9 C655.4 433.8 657.5 434.8 659.6 435.9 C661.7 436.9 663.7 438.0 665.8 439.1 C667.9 440.2 669.9 441.3 671.9 442.5 C673.9 443.6 676.0 444.8 678.0 446.0 C680.0 447.2 682.0 448.5 683.9 449.7 C685.9 451.0 687.9 452.3 689.8 453.6 C691.8 454.9 693.7 456.3 695.6 457.6 C697.5 459.0 699.5 460.4 701.4 461.8 C703.3 463.2 705.1 464.6 707.0 466.1 C708.9 467.5 710.7 469.0 712.6 470.5 C714.4 472.0 716.3 473.5 718.1 475.1 C719.9 476.6 721.7 478.2 723.5 479.7 C725.3 481.3 727.1 482.9 728.8 484.5 C730.6 486.1 732.3 487.7 734.1 489.4 C735.8 491.0 737.5 492.7 739.2 494.4 C740.9 496.0 742.6 497.7 744.3 499.4 C746.0 501.1 747.7 502.8 749.3 504.6 C751.0 506.3 752.6 508.0 754.2 509.8 C755.8 511.5 757.5 513.3 759.1 515.1 C760.6 516.8 762.2 518.6 763.8 520.4 C765.4 522.2 766.9 524.0 768.5 525.8 C770.0 527.6 771.5 529.4 773.0 531.3 C774.5 533.1 776.0 534.9 777.5 536.7 C779.0 538.6 780.4 540.4 781.9 542.3 C783.3 544.1 784.8 546.0 786.2 547.8 C787.6 549.7 789.0 551.5 790.4 553.4 C791.8 555.3 793.2 557.1 794.6 559.0 C796.0 560.9 797.4 562.7 798.8 564.6 C800.1 566.5 801.5 568.3 802.9 570.2 C804.2 572.1 805.6 573.9 806.9 575.8 C808.3 577.7 809.7 579.6 811.0 581.4 C812.4 583.3 813.7 585.2 815.1 587.0 C816.5 588.9 817.8 590.8 819.2 592.6 C820.6 594.5 822.0 596.3 823.4 598.2 C824.8 600.0 826.2 601.9 827.6 603.7 C829.0 605.6 830.4 607.4 831.8 609.3 C833.3 611.1 834.7 612.9 836.2 614.7 C837.6 616.6 839.1 618.4 840.6 620.2 C842.1 622.0 843.6 623.8 845.1 625.6 C846.6 627.4 848.2 629.2 849.7 631.0 C851.3 632.7 852.9 634.5 854.5 636.3 C856.1 638.0 857.8 639.8 859.4 641.5 C861.1 643.3 863.7 645.8 864.5 646.7"/>
<path class="cv" d="M420.0 484.5 C420.9 483.7 423.6 481.4 425.4 479.9 C427.2 478.4 429.1 477.0 431.0 475.6 C432.9 474.2 434.8 472.8 436.7 471.4 C438.7 470.1 440.7 468.8 442.7 467.6 C444.7 466.3 446.7 465.1 448.7 463.9 C450.8 462.7 452.9 461.6 455.0 460.5 C457.1 459.4 459.2 458.4 461.3 457.3 C463.5 456.3 465.7 455.4 467.8 454.4 C470.0 453.5 472.2 452.6 474.4 451.8 C476.6 450.9 478.9 450.2 481.1 449.4 C483.4 448.7 485.6 447.9 487.9 447.3 C490.2 446.6 492.5 446.0 494.8 445.4 C497.1 444.9 499.4 444.3 501.7 443.9 C504.0 443.4 506.3 442.9 508.7 442.6 C511.0 442.2 513.3 441.8 515.7 441.5 C518.0 441.3 520.4 441.0 522.7 440.8 C525.1 440.6 527.4 440.5 529.8 440.4 C532.1 440.3 534.5 440.2 536.8 440.3 C539.2 440.3 541.5 440.3 543.9 440.4 C546.2 440.5 548.6 440.7 550.9 440.9 C553.2 441.1 555.6 441.4 557.9 441.7 C560.2 442.0 562.5 442.4 564.8 442.8 C567.1 443.2 569.4 443.7 571.7 444.2 C574.0 444.7 576.3 445.3 578.6 445.9 C580.9 446.5 583.1 447.2 585.4 447.9 C587.6 448.6 589.8 449.3 592.1 450.1 C594.3 450.9 596.5 451.7 598.7 452.6 C600.9 453.5 603.1 454.4 605.3 455.3 C607.5 456.3 609.6 457.3 611.8 458.3 C613.9 459.3 616.0 460.3 618.2 461.4 C620.3 462.5 622.4 463.6 624.5 464.7 C626.5 465.8 628.6 467.0 630.7 468.2 C632.7 469.4 634.8 470.6 636.8 471.8 C638.8 473.1 640.8 474.4 642.8 475.6 C644.8 476.9 646.8 478.3 648.7 479.6 C650.7 480.9 652.6 482.3 654.5 483.7 C656.5 485.1 658.4 486.5 660.3 487.9 C662.2 489.3 664.0 490.7 665.9 492.2 C667.7 493.7 669.6 495.1 671.4 496.6 C673.2 498.1 675.1 499.7 676.9 501.2 C678.7 502.7 680.4 504.3 682.2 505.8 C684.0 507.4 685.7 509.0 687.4 510.6 C689.2 512.2 690.9 513.8 692.6 515.4 C694.3 517.1 696.0 518.7 697.7 520.4 C699.3 522.1 701.0 523.7 702.6 525.4 C704.3 527.1 705.9 528.8 707.5 530.5 C709.1 532.3 710.7 534.0 712.3 535.7 C713.9 537.5 715.4 539.2 717.0 541.0 C718.5 542.8 720.1 544.6 721.6 546.4 C723.1 548.2 724.6 550.0 726.1 551.8 C727.6 553.6 729.1 555.5 730.6 557.3 C732.0 559.2 733.5 561.0 734.9 562.9 C736.4 564.8 737.8 566.7 739.2 568.6 C740.6 570.4 742.0 572.4 743.4 574.3 C744.7 576.2 746.1 578.1 747.5 580.1 C748.8 582.0 750.1 583.9 751.5 585.9 C752.8 587.9 754.1 589.8 755.4 591.8 C756.7 593.8 758.0 595.8 759.2 597.8 C760.5 599.8 761.8 601.8 763.0 603.8 C764.3 605.8 765.5 607.8 766.7 609.8 C768.0 611.8 769.2 613.9 770.4 615.9 C771.6 617.9 772.8 620.0 774.0 622.0 C775.2 624.0 776.4 626.1 777.6 628.1 C778.8 630.2 780.0 632.2 781.2 634.3 C782.4 636.3 783.6 638.3 784.7 640.4 C785.9 642.4 787.7 645.5 788.3 646.5"/>
<path class="cv" d="M363.5 550.3 C364.2 549.4 366.3 546.5 367.8 544.6 C369.2 542.7 370.6 540.8 372.1 538.9 C373.5 537.0 375.0 535.2 376.5 533.3 C378.0 531.5 379.5 529.6 381.1 527.9 C382.6 526.1 384.2 524.4 385.9 522.7 C387.6 521.1 389.3 519.5 391.1 518.0 C392.9 516.5 394.7 515.1 396.6 513.8 C398.6 512.5 400.5 511.3 402.6 510.2 C404.6 509.0 406.7 508.0 408.8 507.0 C411.0 506.1 413.2 505.2 415.4 504.4 C417.6 503.6 419.8 502.9 422.1 502.3 C424.4 501.6 426.7 501.1 429.0 500.6 C431.3 500.1 433.6 499.7 436.0 499.4 C438.4 499.1 440.7 498.8 443.1 498.7 C445.5 498.5 447.9 498.4 450.3 498.4 C452.7 498.4 455.0 498.5 457.4 498.6 C459.8 498.7 462.2 498.9 464.5 499.2 C466.9 499.5 469.3 499.9 471.6 500.3 C473.9 500.7 476.2 501.3 478.5 501.8 C480.8 502.4 483.1 503.1 485.3 503.8 C487.5 504.5 489.7 505.3 491.9 506.1 C494.1 507.0 496.2 507.9 498.4 508.9 C500.5 509.8 502.6 510.9 504.7 511.9 C506.8 513.0 508.8 514.1 510.9 515.3 C512.9 516.5 514.9 517.7 516.9 518.9 C518.9 520.2 520.9 521.5 522.9 522.8 C524.8 524.1 526.8 525.5 528.7 526.9 C530.6 528.2 532.5 529.7 534.4 531.1 C536.3 532.5 538.2 534.0 540.1 535.5 C541.9 536.9 543.8 538.4 545.6 539.9 C547.4 541.4 549.2 543.0 551.0 544.5 C552.8 546.1 554.6 547.6 556.4 549.2 C558.1 550.8 559.9 552.4 561.6 554.0 C563.3 555.6 565.0 557.3 566.7 558.9 C568.4 560.6 570.0 562.3 571.7 564.0 C573.3 565.7 574.9 567.4 576.5 569.1 C578.1 570.9 579.7 572.6 581.2 574.4 C582.8 576.2 584.3 578.0 585.8 579.8 C587.3 581.6 588.8 583.5 590.2 585.3 C591.7 587.2 593.1 589.1 594.6 590.9 C596.0 592.8 597.4 594.7 598.8 596.6 C600.3 598.5 601.7 600.4 603.1 602.3 C604.5 604.2 605.9 606.1 607.3 608.0 C608.7 609.9 610.1 611.8 611.5 613.7 C612.9 615.6 614.4 617.5 615.8 619.4 C617.2 621.3 618.7 623.2 620.1 625.0 C621.6 626.9 623.0 628.7 624.5 630.6 C626.0 632.4 627.5 634.2 629.1 636.0 C630.6 637.8 632.2 639.6 633.8 641.3 C635.3 643.1 637.8 645.6 638.6 646.5"/>
<path class="cv" d="M343.0 576.5 C343.7 575.6 345.8 572.8 347.2 571.0 C348.7 569.2 350.2 567.4 351.8 565.7 C353.3 563.9 354.9 562.2 356.6 560.5 C358.3 558.8 360.0 557.2 361.7 555.6 C363.5 554.0 365.3 552.4 367.1 550.9 C369.0 549.3 370.9 547.9 372.8 546.4 C374.7 545.0 376.7 543.6 378.7 542.3 C380.8 541.0 382.8 539.8 384.9 538.6 C387.0 537.4 389.1 536.2 391.3 535.2 C393.4 534.1 395.6 533.1 397.8 532.2 C400.1 531.3 402.3 530.5 404.6 529.7 C406.8 529.0 409.1 528.3 411.4 527.7 C413.7 527.2 416.0 526.7 418.3 526.3 C420.6 525.9 422.9 525.6 425.2 525.4 C427.5 525.2 429.8 525.1 432.1 525.1 C434.4 525.1 436.7 525.2 439.0 525.4 C441.3 525.6 443.6 525.9 445.9 526.4 C448.2 526.8 450.4 527.3 452.7 527.9 C454.9 528.5 457.1 529.2 459.3 529.9 C461.6 530.7 463.7 531.6 465.9 532.5 C468.1 533.4 470.2 534.4 472.4 535.5 C474.5 536.6 476.6 537.7 478.7 538.9 C480.7 540.1 482.8 541.4 484.8 542.7 C486.8 544.0 488.8 545.4 490.7 546.8 C492.7 548.2 494.6 549.7 496.5 551.2 C498.3 552.8 500.2 554.3 502.0 555.9 C503.8 557.5 505.5 559.1 507.2 560.8 C509.0 562.4 510.6 564.1 512.3 565.9 C513.9 567.6 515.5 569.3 517.1 571.1 C518.7 572.9 520.2 574.7 521.8 576.5 C523.3 578.3 524.8 580.1 526.2 582.0 C527.7 583.9 529.1 585.7 530.6 587.6 C532.0 589.5 533.4 591.4 534.8 593.4 C536.2 595.3 537.5 597.2 538.9 599.2 C540.3 601.1 541.6 603.1 542.9 605.0 C544.3 607.0 545.6 608.9 546.9 610.9 C548.2 612.9 549.6 614.8 550.9 616.8 C552.2 618.8 553.5 620.8 554.8 622.7 C556.1 624.7 557.5 626.7 558.8 628.6 C560.1 630.6 561.4 632.5 562.8 634.5 C564.1 636.4 565.5 638.4 566.9 640.3 C568.2 642.2 570.3 645.0 571.0 646.0"/>
<path class="ds" d="M613.4 246.4 L609.0 261.7"/>
<path class="ds" d="M605.7 272.7 L602.0 288.0"/>
<path class="ds" d="M596.4 298.5 L592.3 313.5"/>
<path class="ds" d="M587.8 324.5 L583.5 339.0"/>
<path class="ds" d="M579.8 347.0 L572.9 364.6"/>
<path class="ds" d="M568.0 373.8 L561.0 390.7"/>
<path class="ds" d="M557.7 398.7 L550.3 413.4"/>
<path class="ds" d="M546.1 422.6 L536.9 440.2"/>
<path class="ds" d="M532.7 448.5 L523.5 464.4"/>
<path class="ds" d="M519.3 472.0 L510.1 487.9"/>
<path class="ds" d="M505.1 495.4 L500.1 502.9"/>
<circle class="ci" cx="615.0" cy="240.2" r="5.3"/>
<circle class="ci" cx="495.6" cy="508.8" r="5.3"/>
<circle class="ci" cx="1069.8" cy="574.2" r="5.3"/>
<text class="yl" x="190.2" y="139.3">0.5</text>
<text class="yl" x="190.0" y="245.2">0.4</text>
<text class="yl" x="190.0" y="348.5">0.3</text>
<text class="yl" x="191.5" y="455.1">0.2</text>
<text class="yl" x="189.5" y="561.2">0.1</text>
<text class="xl" transform="translate(315.0 680.2) scale(0.96 1)">2</text>
<text class="xl" transform="translate(415.5 680.2) scale(0.96 1)">4</text>
<text class="xl" transform="translate(520.0 680.2) scale(0.96 1)">6</text>
<text class="xl" transform="translate(626.0 680.2) scale(0.96 1)">8</text>
<text class="xl" transform="translate(724.3 680.2) scale(0.96 1)">10</text>
<text class="xl" transform="translate(824.0 680.2) scale(0.96 1)">12</text>
<text class="xl" transform="translate(923.8 680.2) scale(0.96 1)">14</text>
<text class="xl" transform="translate(1024.6 680.2) scale(0.96 1)">16</text>
<text class="xl" transform="translate(1127.9 680.2) scale(0.96 1)">18</text>
<text class="xl" x="184.5" y="683.5" style="font-size:36.5px">0</text>
<text class="al" x="344.4" y="60.0">1</text><text class="dg" x="342.4" y="54.1">°</text>
<text class="al" x="344.7" y="102.0">2</text><text class="dg" x="342.7" y="96.1">°</text>
<text class="al" x="343.9" y="140.0">3</text><text class="dg" x="341.9" y="134.1">°</text>
<text class="al" x="345.9" y="180.0">4</text><text class="dg" x="343.9" y="174.1">°</text>
<text class="al" x="347.3" y="220.0">5</text><text class="dg" x="345.3" y="214.1">°</text>
<text class="al" x="347.3" y="261.0">6</text><text class="dg" x="345.3" y="255.1">°</text>
<text class="al" x="347.3" y="301.0">7</text><text class="dg" x="345.3" y="295.1">°</text>
<text class="al" x="346.3" y="340.0">8</text><text class="dg" x="344.3" y="334.1">°</text>
<text class="al" x="347.3" y="379.0">9</text><text class="dg" x="345.3" y="373.1">°</text>
<text class="al" x="347.3" y="420.5">10</text><text class="dg" x="345.3" y="414.6">°</text>
<text class="al" x="347.3" y="459.0">13</text><text class="dg" x="345.3" y="453.1">°</text>
<text class="al" x="347.3" y="501.5">15</text><text class="dg" x="345.3" y="495.6">°</text>
<text class="zh" x="582" y="176" style="font-size:32.4px">额定风速</text>
<text class="zh" x="814.5" y="221" style="font-size:32px">恒定功率</text>
<text class="zh" x="523.5" y="511.8" style="font-size:32.9px">切出风速</text>
<text class="zh" x="1082.5" y="570" style="font-size:31.7px">切入风速</text>
<text x="698" y="737" style="font-size:38px;font-style:italic">λ</text>
<text transform="translate(107.5 372) rotate(-90)" style="font-style:italic"><tspan style="font-size:38px">C</tspan><tspan style="font-size:26px" dy="9">P</tspan></text>
<g opacity="0.75"><circle cx="645" cy="117" r="0.8" fill="#9f9f9f"/><circle cx="1127" cy="73" r="0.7" fill="#d6d6d6"/><circle cx="504" cy="67" r="0.6" fill="#b4b4b4"/><circle cx="300" cy="330" r="1.0" fill="#a5a5a5"/><circle cx="1228" cy="490" r="0.7" fill="#9d9d9d"/><circle cx="912" cy="308" r="1.2" fill="#9b9b9b"/><circle cx="892" cy="103" r="0.6" fill="#a5a5a5"/><circle cx="906" cy="435" r="0.8" fill="#a3a3a3"/><circle cx="916" cy="496" r="0.6" fill="#9e9e9e"/><circle cx="900" cy="481" r="0.6" fill="#cccccc"/><circle cx="1090" cy="362" r="1.1" fill="#c4c4c4"/><circle cx="615" cy="617" r="0.8" fill="#b5b5b5"/><circle cx="282" cy="233" r="0.6" fill="#c1c1c1"/><circle cx="1049" cy="224" r="1.2" fill="#a5a5a5"/><circle cx="848" cy="128" r="0.5" fill="#d4d4d4"/><circle cx="755" cy="747" r="0.5" fill="#bebebe"/><circle cx="664" cy="272" r="0.6" fill="#d0d0d0"/><circle cx="254" cy="73" r="0.5" fill="#9e9e9e"/><circle cx="236" cy="545" r="0.8" fill="#cfcfcf"/><circle cx="597" cy="300" r="0.8" fill="#989898"/><circle cx="1222" cy="276" r="0.7" fill="#d5d5d5"/><circle cx="232" cy="597" r="0.5" fill="#b5b5b5"/><circle cx="729" cy="712" r="0.6" fill="#ababab"/><circle cx="784" cy="427" r="1.0" fill="#cdcdcd"/><circle cx="1162" cy="216" r="0.6" fill="#c3c3c3"/><circle cx="1008" cy="296" r="0.5" fill="#a0a0a0"/><circle cx="447" cy="180" r="0.5" fill="#d4d4d4"/><circle cx="1135" cy="142" r="0.5" fill="#a8a8a8"/><circle cx="752" cy="287" r="0.7" fill="#a6a6a6"/><circle cx="1015" cy="401" r="0.7" fill="#9c9c9c"/><circle cx="792" cy="677" r="1.1" fill="#c8c8c8"/><circle cx="730" cy="306" r="0.6" fill="#c9c9c9"/><circle cx="240" cy="52" r="0.5" fill="#aaaaaa"/><circle cx="337" cy="467" r="0.5" fill="#a9a9a9"/><circle cx="873" cy="737" r="0.7" fill="#9f9f9f"/><circle cx="1170" cy="477" r="0.5" fill="#b6b6b6"/><circle cx="1234" cy="468" r="0.6" fill="#a4a4a4"/><circle cx="1149" cy="772" r="0.6" fill="#d3d3d3"/><circle cx="630" cy="112" r="0.9" fill="#b7b7b7"/><circle cx="815" cy="538" r="0.6" fill="#b0b0b0"/><circle cx="1230" cy="410" r="0.5" fill="#999999"/><circle cx="1074" cy="232" r="0.8" fill="#a1a1a1"/><circle cx="1020" cy="203" r="0.6" fill="#ababab"/><circle cx="682" cy="173" r="0.7" fill="#d6d6d6"/><circle cx="652" cy="173" r="0.9" fill="#aeaeae"/><circle cx="1114" cy="636" r="0.9" fill="#b3b3b3"/><circle cx="483" cy="383" r="0.9" fill="#999999"/><circle cx="1101" cy="367" r="0.5" fill="#c2c2c2"/><circle cx="782" cy="728" r="1.2" fill="#c4c4c4"/><circle cx="280" cy="79" r="0.6" fill="#c1c1c1"/><circle cx="489" cy="485" r="1.1" fill="#969696"/><circle cx="816" cy="507" r="0.9" fill="#a0a0a0"/><circle cx="1138" cy="93" r="0.6" fill="#afafaf"/><circle cx="814" cy="139" r="0.9" fill="#c0c0c0"/><circle cx="292" cy="735" r="0.8" fill="#d1d1d1"/><circle cx="733" cy="736" r="0.8" fill="#ababab"/><circle cx="1263" cy="21" r="0.7" fill="#d1d1d1"/><circle cx="1115" cy="114" r="1.0" fill="#d2d2d2"/><circle cx="986" cy="272" r="0.7" fill="#a6a6a6"/><circle cx="126" cy="621" r="0.8" fill="#a3a3a3"/><circle cx="863" cy="725" r="0.6" fill="#aeaeae"/><circle cx="1131" cy="164" r="0.5" fill="#bbbbbb"/><circle cx="838" cy="593" r="0.5" fill="#cbcbcb"/><circle cx="1137" cy="47" r="0.9" fill="#d0d0d0"/><circle cx="990" cy="633" r="0.7" fill="#d6d6d6"/><circle cx="374" cy="118" r="0.6" fill="#cecece"/><circle cx="1089" cy="473" r="0.9" fill="#a9a9a9"/><circle cx="442" cy="368" r="0.8" fill="#9d9d9d"/><circle cx="647" cy="403" r="0.7" fill="#a3a3a3"/><circle cx="1177" cy="44" r="0.5" fill="#9b9b9b"/><circle cx="1086" cy="394" r="0.7" fill="#9e9e9e"/><circle cx="778" cy="476" r="0.6" fill="#d7d7d7"/><circle cx="482" cy="215" r="0.6" fill="#d3d3d3"/><circle cx="844" cy="192" r="0.7" fill="#b7b7b7"/><circle cx="1208" cy="694" r="0.5" fill="#cfcfcf"/><circle cx="385" cy="95" r="0.6" fill="#9f9f9f"/><circle cx="998" cy="333" r="0.5" fill="#bcbcbc"/><circle cx="1096" cy="697" r="0.5" fill="#c4c4c4"/><circle cx="395" cy="686" r="1.2" fill="#b2b2b2"/><circle cx="1064" cy="73" r="1.0" fill="#aaaaaa"/><circle cx="1260" cy="647" r="0.5" fill="#cdcdcd"/><circle cx="1263" cy="314" r="0.6" fill="#c3c3c3"/><circle cx="638" cy="561" r="0.5" fill="#d0d0d0"/><circle cx="775" cy="14" r="0.5" fill="#bbbbbb"/><circle cx="849" cy="50" r="1.2" fill="#b3b3b3"/><circle cx="1246" cy="81" r="0.5" fill="#9b9b9b"/><circle cx="1195" cy="141" r="0.9" fill="#cccccc"/><circle cx="1150" cy="525" r="1.1" fill="#c9c9c9"/><circle cx="405" cy="714" r="0.7" fill="#bfbfbf"/><circle cx="298" cy="45" r="0.8" fill="#cccccc"/><circle cx="1187" cy="209" r="0.5" fill="#a1a1a1"/><circle cx="1110" cy="65" r="1.0" fill="#9e9e9e"/><circle cx="571" cy="95" r="0.5" fill="#cbcbcb"/><circle cx="1211" cy="208" r="0.5" fill="#b4b4b4"/><circle cx="1220" cy="753" r="0.5" fill="#adadad"/><circle cx="485" cy="242" r="0.5" fill="#b0b0b0"/><circle cx="603" cy="389" r="0.5" fill="#c2c2c2"/><circle cx="1112" cy="773" r="0.5" fill="#989898"/><circle cx="1052" cy="428" r="0.5" fill="#d2d2d2"/><circle cx="546" cy="347" r="0.8" fill="#cdcdcd"/><circle cx="985" cy="424" r="1.0" fill="#d6d6d6"/><circle cx="625" cy="167" r="0.5" fill="#afafaf"/><circle cx="1136" cy="549" r="0.8" fill="#c9c9c9"/><circle cx="1260" cy="763" r="1.0" fill="#979797"/><circle cx="259" cy="576" r="0.5" fill="#aaaaaa"/><circle cx="223" cy="517" r="0.6" fill="#d6d6d6"/><circle cx="998" cy="219" r="0.5" fill="#bbbbbb"/><circle cx="198" cy="144" r="0.5" fill="#969696"/><circle cx="569" cy="747" r="1.2" fill="#bfbfbf"/><circle cx="545" cy="750" r="0.5" fill="#c3c3c3"/><circle cx="458" cy="261" r="0.5" fill="#b9b9b9"/><circle cx="839" cy="156" r="0.6" fill="#969696"/><circle cx="301" cy="635" r="0.5" fill="#9b9b9b"/><circle cx="725" cy="233" r="0.7" fill="#a0a0a0"/><circle cx="920" cy="411" r="0.9" fill="#c7c7c7"/><circle cx="1079" cy="560" r="0.6" fill="#bababa"/><circle cx="1045" cy="500" r="0.5" fill="#d7d7d7"/><circle cx="959" cy="570" r="0.9" fill="#a7a7a7"/><circle cx="1198" cy="585" r="0.7" fill="#989898"/><circle cx="1131" cy="454" r="1.0" fill="#b3b3b3"/><circle cx="289" cy="33" r="0.8" fill="#a3a3a3"/><circle cx="706" cy="351" r="0.5" fill="#989898"/><circle cx="958" cy="529" r="0.6" fill="#969696"/><circle cx="793" cy="54" r="1.1" fill="#a1a1a1"/><circle cx="988" cy="51" r="0.9" fill="#b6b6b6"/><circle cx="1117" cy="657" r="0.5" fill="#b0b0b0"/><circle cx="526" cy="505" r="0.6" fill="#c6c6c6"/><circle cx="272" cy="707" r="0.5" fill="#9b9b9b"/><circle cx="949" cy="499" r="0.5" fill="#a8a8a8"/><circle cx="654" cy="506" r="0.8" fill="#a7a7a7"/><circle cx="91" cy="47" r="0.5" fill="#a2a2a2"/><circle cx="1017" cy="525" r="0.5" fill="#bababa"/><circle cx="801" cy="362" r="0.5" fill="#afafaf"/><circle cx="630" cy="67" r="0.6" fill="#bbbbbb"/><circle cx="795" cy="637" r="1.2" fill="#cfcfcf"/><circle cx="1263" cy="301" r="1.1" fill="#b0b0b0"/><circle cx="267" cy="70" r="0.9" fill="#b7b7b7"/><circle cx="1232" cy="103" r="1.0" fill="#d7d7d7"/><circle cx="590" cy="88" r="0.6" fill="#d5d5d5"/><circle cx="1189" cy="378" r="0.5" fill="#969696"/><circle cx="1230" cy="530" r="0.6" fill="#a8a8a8"/><circle cx="749" cy="292" r="0.5" fill="#c0c0c0"/><circle cx="28" cy="583" r="1.0" fill="#a5a5a5"/><circle cx="1222" cy="152" r="0.5" fill="#bbbbbb"/><circle cx="556" cy="50" r="0.6" fill="#9f9f9f"/><circle cx="688" cy="333" r="0.5" fill="#9c9c9c"/><circle cx="592" cy="40" r="0.8" fill="#a9a9a9"/><circle cx="551" cy="206" r="0.6" fill="#aeaeae"/><circle cx="1087" cy="610" r="0.6" fill="#999999"/><circle cx="1119" cy="490" r="1.1" fill="#b0b0b0"/><circle cx="1041" cy="38" r="0.9" fill="#cfcfcf"/><circle cx="947" cy="108" r="1.0" fill="#d4d4d4"/><circle cx="208" cy="720" r="0.5" fill="#d2d2d2"/><circle cx="748" cy="219" r="0.5" fill="#b7b7b7"/><circle cx="739" cy="185" r="0.6" fill="#c8c8c8"/><circle cx="355" cy="500" r="0.5" fill="#d6d6d6"/><circle cx="1195" cy="386" r="0.5" fill="#c0c0c0"/><circle cx="1265" cy="350" r="0.5" fill="#aeaeae"/><circle cx="544" cy="136" r="0.7" fill="#bebebe"/><circle cx="537" cy="201" r="0.7" fill="#989898"/><circle cx="1067" cy="321" r="0.6" fill="#b0b0b0"/><circle cx="706" cy="263" r="0.5" fill="#b9b9b9"/><circle cx="909" cy="280" r="0.8" fill="#b1b1b1"/><circle cx="304" cy="697" r="0.6" fill="#cfcfcf"/><circle cx="766" cy="242" r="0.9" fill="#989898"/><circle cx="368" cy="330" r="0.9" fill="#d2d2d2"/><circle cx="1244" cy="381" r="0.5" fill="#d1d1d1"/><circle cx="1247" cy="193" r="0.5" fill="#a9a9a9"/><circle cx="410" cy="755" r="0.5" fill="#d0d0d0"/><circle cx="289" cy="604" r="0.5" fill="#a6a6a6"/><circle cx="529" cy="715" r="0.8" fill="#bcbcbc"/><circle cx="1239" cy="487" r="0.7" fill="#cdcdcd"/><circle cx="1022" cy="87" r="0.5" fill="#aeaeae"/><circle cx="719" cy="174" r="0.7" fill="#979797"/><circle cx="874" cy="774" r="0.5" fill="#bebebe"/><circle cx="974" cy="687" r="0.6" fill="#b4b4b4"/><circle cx="883" cy="23" r="0.6" fill="#bdbdbd"/><circle cx="223" cy="151" r="1.0" fill="#cbcbcb"/><circle cx="281" cy="177" r="0.6" fill="#c5c5c5"/><circle cx="521" cy="26" r="0.5" fill="#cbcbcb"/><circle cx="690" cy="308" r="0.5" fill="#bbbbbb"/><circle cx="1058" cy="392" r="0.5" fill="#afafaf"/><circle cx="630" cy="637" r="0.5" fill="#b2b2b2"/><circle cx="572" cy="691" r="0.5" fill="#d5d5d5"/><circle cx="943" cy="697" r="0.6" fill="#9d9d9d"/><circle cx="1229" cy="114" r="0.6" fill="#b1b1b1"/><circle cx="134" cy="463" r="0.6" fill="#9d9d9d"/><circle cx="459" cy="349" r="0.8" fill="#bebebe"/><circle cx="1052" cy="775" r="1.1" fill="#c0c0c0"/><circle cx="469" cy="507" r="0.7" fill="#d1d1d1"/><circle cx="160" cy="516" r="0.6" fill="#c5c5c5"/><circle cx="1257" cy="344" r="0.5" fill="#a0a0a0"/><circle cx="591" cy="273" r="1.1" fill="#a5a5a5"/><circle cx="897" cy="590" r="0.6" fill="#bdbdbd"/><circle cx="1127" cy="336" r="0.5" fill="#d2d2d2"/><circle cx="477" cy="421" r="0.6" fill="#bfbfbf"/><circle cx="692" cy="697" r="0.5" fill="#cacaca"/><circle cx="549" cy="486" r="0.6" fill="#c6c6c6"/><circle cx="169" cy="49" r="1.1" fill="#b6b6b6"/><circle cx="475" cy="49" r="0.7" fill="#c4c4c4"/><circle cx="581" cy="744" r="0.7" fill="#b7b7b7"/><circle cx="1064" cy="536" r="1.1" fill="#bcbcbc"/><circle cx="45" cy="587" r="1.1" fill="#9e9e9e"/><circle cx="136" cy="182" r="0.6" fill="#d1d1d1"/><circle cx="1233" cy="300" r="0.5" fill="#cdcdcd"/><circle cx="1121" cy="103" r="0.6" fill="#979797"/><circle cx="1111" cy="574" r="1.0" fill="#a9a9a9"/><circle cx="940" cy="255" r="0.5" fill="#c4c4c4"/><circle cx="1096" cy="463" r="0.6" fill="#c8c8c8"/><circle cx="1069" cy="192" r="0.5" fill="#9a9a9a"/><circle cx="818" cy="423" r="0.5" fill="#cccccc"/><circle cx="1177" cy="768" r="0.5" fill="#a0a0a0"/><circle cx="495" cy="327" r="1.2" fill="#cfcfcf"/><circle cx="443" cy="103" r="0.6" fill="#b4b4b4"/><circle cx="1065" cy="658" r="0.8" fill="#a5a5a5"/><circle cx="1092" cy="228" r="0.5" fill="#b8b8b8"/><circle cx="702" cy="573" r="0.5" fill="#b5b5b5"/><circle cx="462" cy="183" r="0.5" fill="#aeaeae"/><circle cx="648" cy="308" r="1.2" fill="#d6d6d6"/><circle cx="863" cy="505" r="0.5" fill="#d1d1d1"/><circle cx="1261" cy="80" r="0.6" fill="#b3b3b3"/><circle cx="1143" cy="710" r="0.5" fill="#bbbbbb"/><circle cx="529" cy="39" r="0.7" fill="#aeaeae"/><circle cx="1214" cy="289" r="1.0" fill="#cfcfcf"/><circle cx="936" cy="602" r="0.8" fill="#969696"/><circle cx="329" cy="463" r="0.7" fill="#b1b1b1"/><circle cx="177" cy="264" r="0.5" fill="#b6b6b6"/><circle cx="179" cy="569" r="1.1" fill="#979797"/><circle cx="1125" cy="318" r="0.6" fill="#bdbdbd"/><circle cx="274" cy="24" r="0.6" fill="#d3d3d3"/><circle cx="242" cy="79" r="0.6" fill="#a9a9a9"/><circle cx="969" cy="71" r="0.5" fill="#b8b8b8"/><circle cx="742" cy="220" r="0.5" fill="#9c9c9c"/><circle cx="631" cy="440" r="0.5" fill="#cbcbcb"/><circle cx="115" cy="596" r="0.9" fill="#afafaf"/><circle cx="722" cy="315" r="1.1" fill="#cdcdcd"/><circle cx="1192" cy="329" r="1.0" fill="#c9c9c9"/><circle cx="912" cy="283" r="0.9" fill="#a6a6a6"/><circle cx="101" cy="429" r="0.8" fill="#c8c8c8"/><circle cx="297" cy="483" r="0.6" fill="#d6d6d6"/><circle cx="441" cy="270" r="0.5" fill="#ababab"/><circle cx="1210" cy="85" r="0.6" fill="#afafaf"/><circle cx="618" cy="651" r="0.5" fill="#d3d3d3"/><circle cx="633" cy="472" r="0.8" fill="#a1a1a1"/><circle cx="1194" cy="482" r="1.0" fill="#aaaaaa"/><circle cx="970" cy="666" r="0.7" fill="#afafaf"/><circle cx="1133" cy="142" r="0.5" fill="#c9c9c9"/><circle cx="1221" cy="122" r="0.5" fill="#a9a9a9"/><circle cx="548" cy="563" r="1.1" fill="#9b9b9b"/><circle cx="1177" cy="655" r="0.8" fill="#bfbfbf"/><circle cx="351" cy="466" r="0.7" fill="#bdbdbd"/><circle cx="978" cy="239" r="0.5" fill="#c7c7c7"/><circle cx="987" cy="347" r="0.6" fill="#989898"/><circle cx="43" cy="766" r="0.6" fill="#cfcfcf"/><circle cx="1079" cy="606" r="0.6" fill="#acacac"/><circle cx="1118" cy="311" r="0.5" fill="#c3c3c3"/><circle cx="765" cy="71" r="0.6" fill="#d7d7d7"/><circle cx="986" cy="32" r="0.5" fill="#bebebe"/><circle cx="1090" cy="397" r="0.5" fill="#d6d6d6"/><circle cx="1186" cy="507" r="0.9" fill="#999999"/><circle cx="1156" cy="774" r="0.9" fill="#a4a4a4"/><circle cx="474" cy="763" r="0.6" fill="#ababab"/><circle cx="1011" cy="560" r="0.5" fill="#c2c2c2"/><circle cx="943" cy="196" r="0.5" fill="#b9b9b9"/><circle cx="1194" cy="355" r="0.5" fill="#d3d3d3"/><circle cx="495" cy="204" r="0.6" fill="#bebebe"/><circle cx="701" cy="155" r="0.6" fill="#b9b9b9"/><circle cx="1006" cy="696" r="0.5" fill="#b7b7b7"/><circle cx="347" cy="412" r="0.8" fill="#c4c4c4"/><circle cx="1242" cy="352" r="0.7" fill="#a3a3a3"/><circle cx="555" cy="416" r="1.0" fill="#c5c5c5"/><circle cx="571" cy="770" r="0.7" fill="#c4c4c4"/><circle cx="653" cy="63" r="0.5" fill="#9c9c9c"/><circle cx="611" cy="401" r="0.5" fill="#bebebe"/><circle cx="1052" cy="581" r="0.5" fill="#bbbbbb"/><circle cx="948" cy="336" r="0.6" fill="#9c9c9c"/><circle cx="376" cy="177" r="0.8" fill="#989898"/><circle cx="221" cy="441" r="0.5" fill="#c3c3c3"/><circle cx="870" cy="321" r="0.5" fill="#a7a7a7"/><circle cx="489" cy="485" r="0.6" fill="#a7a7a7"/><circle cx="98" cy="623" r="0.8" fill="#cfcfcf"/><circle cx="310" cy="496" r="1.0" fill="#b8b8b8"/><circle cx="734" cy="205" r="0.5" fill="#c2c2c2"/><circle cx="928" cy="449" r="0.7" fill="#d5d5d5"/><circle cx="550" cy="702" r="0.5" fill="#999999"/><circle cx="738" cy="185" r="0.5" fill="#a3a3a3"/><circle cx="91" cy="428" r="1.1" fill="#a8a8a8"/><circle cx="746" cy="403" r="0.8" fill="#cbcbcb"/><circle cx="1120" cy="136" r="0.5" fill="#bcbcbc"/><circle cx="957" cy="772" r="0.8" fill="#d3d3d3"/><circle cx="1037" cy="5" r="1.0" fill="#d1d1d1"/><circle cx="280" cy="509" r="0.5" fill="#a3a3a3"/><circle cx="567" cy="500" r="0.5" fill="#b7b7b7"/><circle cx="1034" cy="207" r="0.7" fill="#cdcdcd"/><circle cx="1011" cy="713" r="1.2" fill="#bbbbbb"/><circle cx="972" cy="750" r="0.5" fill="#d6d6d6"/><circle cx="103" cy="202" r="0.5" fill="#afafaf"/><circle cx="1225" cy="580" r="0.5" fill="#c7c7c7"/><circle cx="650" cy="186" r="1.1" fill="#d2d2d2"/><circle cx="808" cy="412" r="0.5" fill="#999999"/><circle cx="772" cy="563" r="0.7" fill="#bdbdbd"/><circle cx="1100" cy="304" r="0.7" fill="#ababab"/><circle cx="397" cy="21" r="0.5" fill="#aaaaaa"/><circle cx="669" cy="110" r="0.5" fill="#9b9b9b"/><circle cx="387" cy="500" r="0.5" fill="#9e9e9e"/><circle cx="1056" cy="51" r="0.7" fill="#c4c4c4"/><circle cx="482" cy="742" r="0.7" fill="#9e9e9e"/><circle cx="1174" cy="587" r="0.8" fill="#c7c7c7"/><circle cx="332" cy="160" r="0.5" fill="#9a9a9a"/><circle cx="1229" cy="708" r="0.9" fill="#a1a1a1"/><circle cx="1130" cy="491" r="0.5" fill="#a2a2a2"/><circle cx="377" cy="615" r="0.8" fill="#bbbbbb"/><circle cx="639" cy="329" r="0.5" fill="#b6b6b6"/><circle cx="1214" cy="38" r="0.9" fill="#bfbfbf"/><circle cx="1083" cy="468" r="0.6" fill="#bababa"/><circle cx="950" cy="24" r="0.6" fill="#cdcdcd"/><circle cx="855" cy="76" r="0.6" fill="#9c9c9c"/><circle cx="874" cy="168" r="1.0" fill="#a1a1a1"/><circle cx="909" cy="223" r="0.6" fill="#afafaf"/><circle cx="601" cy="583" r="0.5" fill="#c2c2c2"/><circle cx="827" cy="382" r="0.9" fill="#adadad"/><circle cx="1243" cy="460" r="1.1" fill="#d7d7d7"/><circle cx="566" cy="733" r="0.5" fill="#b1b1b1"/><circle cx="1220" cy="180" r="0.5" fill="#a0a0a0"/><circle cx="827" cy="770" r="0.7" fill="#a3a3a3"/><circle cx="959" cy="276" r="0.6" fill="#c8c8c8"/><circle cx="1184" cy="579" r="0.6" fill="#999999"/><circle cx="701" cy="236" r="0.6" fill="#d6d6d6"/><circle cx="440" cy="763" r="0.7" fill="#d0d0d0"/><circle cx="367" cy="462" r="0.8" fill="#9a9a9a"/><circle cx="674" cy="254" r="0.5" fill="#cfcfcf"/><circle cx="990" cy="577" r="0.5" fill="#cecece"/><circle cx="1014" cy="200" r="0.5" fill="#c0c0c0"/><circle cx="798" cy="688" r="0.5" fill="#aeaeae"/><circle cx="575" cy="586" r="1.0" fill="#a9a9a9"/><circle cx="1044" cy="757" r="0.8" fill="#c2c2c2"/><circle cx="424" cy="255" r="0.5" fill="#a3a3a3"/><circle cx="430" cy="511" r="0.5" fill="#a9a9a9"/><circle cx="1256" cy="618" r="0.9" fill="#cdcdcd"/><circle cx="583" cy="85" r="1.1" fill="#b9b9b9"/><circle cx="492" cy="302" r="0.5" fill="#c9c9c9"/><circle cx="1154" cy="339" r="0.5" fill="#bbbbbb"/><circle cx="799" cy="110" r="0.7" fill="#c9c9c9"/><circle cx="56" cy="188" r="1.0" fill="#cbcbcb"/><circle cx="1147" cy="519" r="0.8" fill="#b3b3b3"/><circle cx="1006" cy="498" r="0.6" fill="#bebebe"/><circle cx="565" cy="544" r="1.1" fill="#b5b5b5"/><circle cx="1094" cy="554" r="0.7" fill="#b6b6b6"/><circle cx="1150" cy="375" r="0.5" fill="#cacaca"/><circle cx="855" cy="514" r="1.0" fill="#bfbfbf"/><circle cx="1091" cy="302" r="0.6" fill="#a3a3a3"/><circle cx="179" cy="422" r="0.5" fill="#afafaf"/><circle cx="856" cy="79" r="0.7" fill="#b0b0b0"/><circle cx="1039" cy="398" r="0.8" fill="#c5c5c5"/><circle cx="858" cy="319" r="1.1" fill="#b0b0b0"/><circle cx="1261" cy="143" r="0.6" fill="#a5a5a5"/><circle cx="1049" cy="477" r="0.8" fill="#b6b6b6"/><circle cx="584" cy="311" r="0.5" fill="#cbcbcb"/><circle cx="1203" cy="488" r="0.8" fill="#b7b7b7"/><circle cx="336" cy="236" r="0.6" fill="#b2b2b2"/><circle cx="1264" cy="747" r="0.6" fill="#ababab"/><circle cx="372" cy="603" r="0.9" fill="#aeaeae"/><circle cx="805" cy="437" r="0.5" fill="#a8a8a8"/><circle cx="679" cy="496" r="1.0" fill="#cacaca"/><circle cx="804" cy="229" r="0.7" fill="#a6a6a6"/><circle cx="1092" cy="365" r="0.9" fill="#b3b3b3"/><circle cx="575" cy="292" r="0.5" fill="#cccccc"/><circle cx="1005" cy="374" r="0.9" fill="#b9b9b9"/><circle cx="685" cy="508" r="0.5" fill="#d4d4d4"/><circle cx="763" cy="495" r="0.8" fill="#c4c4c4"/><circle cx="411" cy="236" r="0.6" fill="#a0a0a0"/><circle cx="1132" cy="704" r="0.9" fill="#a7a7a7"/><circle cx="867" cy="268" r="0.7" fill="#979797"/><circle cx="497" cy="56" r="0.5" fill="#a2a2a2"/><circle cx="913" cy="664" r="0.5" fill="#cfcfcf"/><circle cx="671" cy="119" r="1.1" fill="#ababab"/><circle cx="942" cy="535" r="1.2" fill="#a1a1a1"/><circle cx="996" cy="695" r="0.9" fill="#bcbcbc"/><circle cx="479" cy="538" r="0.7" fill="#cecece"/><circle cx="998" cy="91" r="0.5" fill="#cbcbcb"/><circle cx="531" cy="108" r="0.6" fill="#9d9d9d"/><circle cx="821" cy="704" r="0.8" fill="#b5b5b5"/><circle cx="835" cy="419" r="1.0" fill="#969696"/><circle cx="423" cy="249" r="0.8" fill="#d5d5d5"/><circle cx="993" cy="653" r="0.6" fill="#cbcbcb"/><circle cx="1268" cy="525" r="0.5" fill="#c4c4c4"/><circle cx="967" cy="22" r="0.7" fill="#c0c0c0"/><circle cx="1116" cy="73" r="0.6" fill="#a8a8a8"/><circle cx="166" cy="558" r="0.7" fill="#c1c1c1"/><circle cx="308" cy="512" r="0.5" fill="#b0b0b0"/><circle cx="596" cy="266" r="0.5" fill="#9c9c9c"/><circle cx="1131" cy="228" r="1.0" fill="#c9c9c9"/><circle cx="656" cy="765" r="1.0" fill="#c2c2c2"/><circle cx="1249" cy="509" r="0.9" fill="#c0c0c0"/><circle cx="472" cy="554" r="0.5" fill="#a1a1a1"/><circle cx="1096" cy="31" r="0.8" fill="#c9c9c9"/><circle cx="881" cy="39" r="0.5" fill="#969696"/><circle cx="201" cy="639" r="0.6" fill="#9d9d9d"/><circle cx="1100" cy="707" r="0.7" fill="#a8a8a8"/><circle cx="958" cy="541" r="0.7" fill="#a0a0a0"/><circle cx="501" cy="518" r="0.6" fill="#acacac"/><circle cx="321" cy="141" r="0.5" fill="#a2a2a2"/><circle cx="1201" cy="509" r="0.6" fill="#a7a7a7"/><circle cx="1098" cy="437" r="0.5" fill="#bcbcbc"/><circle cx="460" cy="27" r="0.5" fill="#9c9c9c"/><circle cx="834" cy="406" r="1.0" fill="#cbcbcb"/><circle cx="910" cy="714" r="0.6" fill="#979797"/><circle cx="1006" cy="461" r="1.2" fill="#a9a9a9"/><circle cx="812" cy="320" r="0.5" fill="#d2d2d2"/><circle cx="500" cy="118" r="0.5" fill="#969696"/><circle cx="77" cy="520" r="1.2" fill="#a1a1a1"/><circle cx="509" cy="94" r="0.6" fill="#b9b9b9"/><circle cx="1041" cy="188" r="0.9" fill="#adadad"/><circle cx="1208" cy="284" r="0.9" fill="#a8a8a8"/><circle cx="1050" cy="65" r="0.7" fill="#d5d5d5"/><circle cx="796" cy="724" r="0.5" fill="#9c9c9c"/><circle cx="1039" cy="9" r="0.5" fill="#a0a0a0"/><circle cx="720" cy="243" r="0.7" fill="#d4d4d4"/><circle cx="942" cy="246" r="1.1" fill="#cecece"/><circle cx="806" cy="129" r="1.2" fill="#a4a4a4"/></g>
<circle cx="35.8" cy="310.8" r="2.1" fill="#111"/>
<circle cx="281.5" cy="74.5" r="1.1" fill="#222"/>
<circle cx="1185.5" cy="765.5" r="1.4" fill="#222"/>
</svg>
</body></html>
